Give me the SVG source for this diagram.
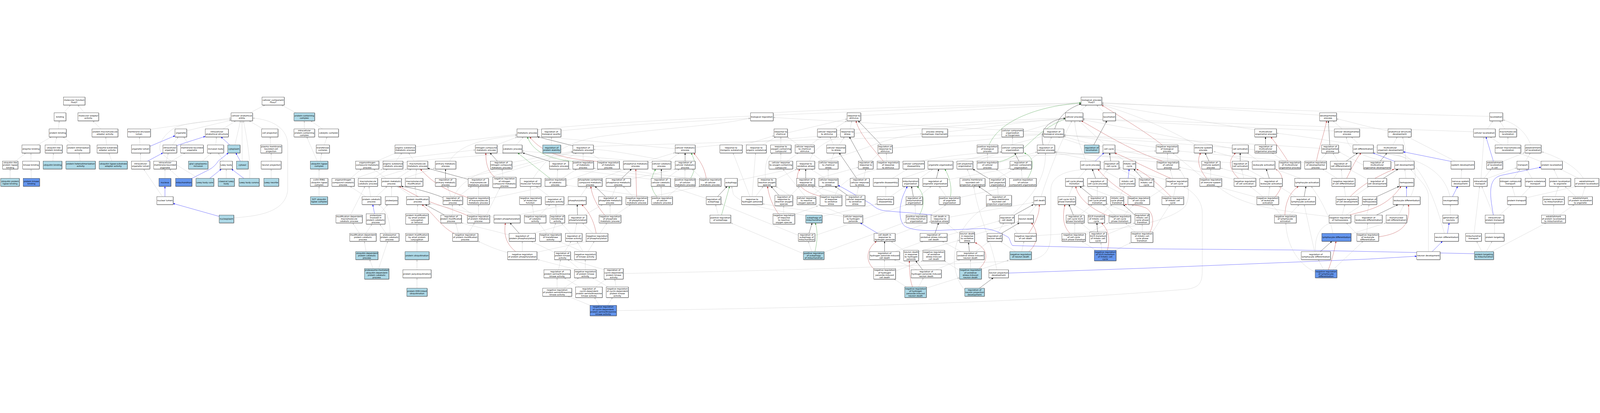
<svg xmlns="http://www.w3.org/2000/svg" width="7680" height="1057" viewBox="0 0 7680 1057">
<defs>
<style>
svg{width:100vw;height:100vh}
rect{fill:#fff;stroke:#111;stroke-width:1;filter:drop-shadow(1px 1px 0 #666)}
.l rect{fill:#add8e6}
.c rect{fill:#6495ed}
text{font-family:"DejaVu Sans","Liberation Sans",sans-serif;font-size:10.2px;text-anchor:middle;fill:#000}
#edges path{fill:none;stroke-width:1}
.g{stroke:#c0c0c0;marker-end:url(#mg)}
.b{stroke:#0000ff;marker-end:url(#mb)}
.k{stroke:#000;marker-end:url(#mk)}
.r{stroke:#b22222;marker-end:url(#mr)}
.n{stroke:#228b22;marker-end:url(#mn)}
</style>
<marker id="mg" viewBox="0 0 10 8" refX="10" refY="4" markerWidth="9" markerHeight="7" markerUnits="userSpaceOnUse" orient="auto"><path d="M0,0L10,4L0,8z" fill="#c0c0c0"/></marker>
<marker id="mb" viewBox="0 0 10 8" refX="10" refY="4" markerWidth="9" markerHeight="7" markerUnits="userSpaceOnUse" orient="auto"><path d="M0,0L10,4L0,8z" fill="#0000ff"/></marker>
<marker id="mk" viewBox="0 0 10 8" refX="10" refY="4" markerWidth="9" markerHeight="7" markerUnits="userSpaceOnUse" orient="auto"><path d="M0,0L10,4L0,8z" fill="#000"/></marker>
<marker id="mr" viewBox="0 0 10 8" refX="10" refY="4" markerWidth="9" markerHeight="7" markerUnits="userSpaceOnUse" orient="auto"><path d="M0,0L10,4L0,8z" fill="#b22222"/></marker>
<marker id="mn" viewBox="0 0 10 8" refX="10" refY="4" markerWidth="9" markerHeight="7" markerUnits="userSpaceOnUse" orient="auto"><path d="M0,0L10,4L0,8z" fill="#228b22"/></marker>
</defs>
<rect x="0" y="0" width="7680" height="1057" style="fill:#fff;stroke:none;filter:none"/>
<g id="edges">
<path class="g" d="M305.3,79.1L338.8,41.6"/>
<path class="g" d="M406,79.1L373.5,41.6"/>
<path class="g" d="M280,156.3L284.5,117.1"/>
<path class="g" d="M484,156.3L445,117.1"/>
<path class="g" d="M179.6,233.2L247,194.3"/>
<path class="g" d="M262.4,233.2L272.7,194.3"/>
<path class="g" d="M351.8,233.2L302,194.3"/>
<path class="g" d="M511.8,233.2L507.3,194.3"/>
<path class="g" d="M74.3,310.8L124.5,271.2"/>
<path class="g" d="M148.6,310.8L148.6,271.2"/>
<path class="g" d="M253.9,310.8L256.3,271.2"/>
<path class="g" d="M384.5,310.8L379.6,271.2"/>
<path class="g" d="M536.7,310.8L522.4,271.2"/>
<path class="g" d="M48.6,393.7L48.6,348.8"/>
<path class="g" d="M150.2,393.7L149,348.8"/>
<path class="g" d="M1199.2,79.1L1272.7,41.6"/>
<path class="g" d="M1421.6,79.1L1350.8,41.6"/>
<path class="g" d="M721.6,158L1109.8,104"/>
<path class="g" d="M896.3,165L1109.8,114.6"/>
<path class="g" d="M1070.6,156.3L1131.8,117.1"/>
<path class="g" d="M1262.4,156.3L1195,117.1"/>
<path class="g" d="M671.8,233.2L669.4,194.3"/>
<path class="b" d="M718.8,240L840,189"/>
<path class="g" d="M827.8,233.2L855.5,194.3"/>
<path class="b" d="M847.8,236L985.3,192"/>
<path class="g" d="M908.2,233.2L881.6,194.3"/>
<path class="g" d="M1035.9,233.2L1038.8,194.3"/>
<path class="b" d="M1103.3,233.2L1060.4,194.3"/>
<path class="g" d="M1127.8,233.2L1154.3,117.1"/>
<path class="g" d="M1298.9,233.2L1296.9,194.3"/>
<path class="g" d="M674.7,310.8L674.7,271.2"/>
<path class="b" d="M708.6,310.8L782,271.2"/>
<path class="g" d="M798,310.8L808,271.2"/>
<path class="g" d="M823.7,310.8L889.8,271.2"/>
<path class="g" d="M971.4,310.8L1014.7,271.2"/>
<path class="g" d="M1073.5,310.8L1047.3,271.2"/>
<path class="b" d="M1153.5,310.8L1131.8,271.2"/>
<path class="g" d="M1162.4,310.8L1161.6,117.1"/>
<path class="g" d="M1301.6,310.8L1301.6,271.2"/>
<path class="g" d="M791.8,393.7L791.8,348.8"/>
<path class="g" d="M861.6,393.7L813.5,348.8"/>
<path class="b" d="M920.8,393.7L1005,351Q1030,338 1048,310L1096.3,271.2"/>
<path class="b" d="M1006.5,393.7L1062.4,348.8"/>
<path class="g" d="M954.3,393.7C900,360 790,300 770,262C755,230 790,180 840,150C900,125 1000,118 1109.8,111"/>
<path class="g" d="M1086,393.7L1086,348.8"/>
<path class="b" d="M1170.6,393.7L1111.4,348.8"/>
<path class="g" d="M1198.4,393.7C1202,330 1195,250 1168.6,117.1"/>
<path class="g" d="M1301.6,393.7L1301.6,348.8"/>
<path class="b" d="M791.8,481L791.8,431.7"/>
<path class="g" d="M779.6,481L689,348.8"/>
<path class="b" d="M1051.8,576L830.6,513.8"/>
<path class="g" d="M1122,583C1230,575 1370,560 1381,450L1381,230C1380,150 1300,110 1213,104.5"/>
<path class="g" d="M1460.7,156.3L1460.7,117.1"/>
<path class="g" d="M1547.7,156.3L1491,117.1"/>
<path class="g" d="M1556.5,233.2L1570,194.3"/>
<path class="g" d="M1522.7,310.8L1472.2,194.3"/>
<path class="g" d="M1537.6,310.8L1544.3,271.2"/>
<path class="g" d="M1531.5,393.7L1531.5,348.8"/>
<path class="g" d="M1531.5,481L1531.5,431.7"/>
<path class="g" d="M1994,242L2482,182"/>
<path class="g" d="M1812,310.8L2282,257"/>
<path class="g" d="M1809.3,310.8L1900.4,271.2"/>
<path class="g" d="M1900.4,310.8L1929.4,271.2"/>
<path class="g" d="M1933.4,318C2100,295 2300,290 2420,271.2"/>
<path class="g" d="M1988,310.8L1961,271.2"/>
<path class="g" d="M2158,310.8C2200,240 2300,205 2482,188"/>
<path class="g" d="M1682.6,393.7L1735,348.8"/>
<path class="g" d="M1701.4,395L1837,348.8"/>
<path class="g" d="M1794.5,393.7L1860,348.8"/>
<path class="g" d="M1809.3,393.7L1954,348.8"/>
<path class="g" d="M1853,393.7L1792.5,348.8"/>
<path class="g" d="M1908.4,393.7L1974.5,348.8"/>
<path class="g" d="M1927,398L2088,344"/>
<path class="g" d="M1994.8,393.7L1998.8,348.8"/>
<path class="k" d="M2138.6,393.7L2138.6,348.8"/>
<path class="k" d="M2247,398L2052.7,345"/>
<path class="g" d="M2188,398C2400,360 2600,300 2749.7,266"/>
<path class="g" d="M2330,393.7L2752,268"/>
<path class="g" d="M2457,317L2750,263"/>
<path class="g" d="M1755.4,481L1680,431.7"/>
<path class="g" d="M1779,481L1771,431.7"/>
<path class="g" d="M1806,481L1858.6,431.7"/>
<path class="g" d="M1879.6,481L1879.6,431.7"/>
<path class="g" d="M1978,481L1907,431.7"/>
<path class="g" d="M2000,481L1992,431.7"/>
<path class="k" d="M2126.3,485C2060,460 1990,440 1926,431.7"/>
<path class="g" d="M2163.3,481L2148.5,431.7"/>
<path class="g" d="M2200.4,481L2264.5,431.7"/>
<path class="r" d="M2244,485C2150,455 2080,420 2018,348.8"/>
<path class="g" d="M2296.9,481L2296.9,431.7"/>
<path class="g" d="M2348,490C2500,460 2700,420 2876,348.8"/>
<path class="b" d="M1797.9,563.3L1789,519"/>
<path class="g" d="M1824.8,563.3L1861,519"/>
<path class="g" d="M1682.6,569.3L1752,431.7"/>
<path class="g" d="M2001.5,563.3L2005,519"/>
<path class="k" d="M2133,569.3L2040.6,519"/>
<path class="g" d="M2171.4,569.3L2171.4,519"/>
<path class="r" d="M2244,572C2190,548 2100,520 2060,505C2000,480 1950,450 1915,431.7"/>
<path class="g" d="M2270,569.3L2200.4,519"/>
<path class="g" d="M2296.9,569.3L2296.9,519"/>
<path class="g" d="M1725,657.3L1692.7,607.3"/>
<path class="g" d="M1756,657.3L1785.7,613.3"/>
<path class="g" d="M1853,657.3L1822.8,613.3"/>
<path class="g" d="M1872,657.3C1874,590 1850,540 1816,519"/>
<path class="g" d="M2001.5,657.3L2001.5,613.3"/>
<path class="r" d="M2180,657.3C2120,630 2080,560 2025,519"/>
<path class="g" d="M2200.4,657.3L2187,607.3"/>
<path class="g" d="M2247.6,657.3L2278,607.3"/>
<path class="g" d="M1757.4,745L1748.6,695.3"/>
<path class="g" d="M2001.5,745L2001.5,695.3"/>
<path class="g" d="M1791,826.6L1774,783"/>
<path class="g" d="M1817.4,826.6L1861.3,695.3"/>
<path class="g" d="M2001.5,832.6L2001.5,783"/>
<path class="g" d="M2001.5,921L2001.5,870.6"/>
<path class="g" d="M2370.7,580C2250,560 2150,530 2059,515"/>
<path class="g" d="M2443.5,665C2350,640 2260,620 2214.6,607"/>
<path class="g" d="M2436.8,750C2350,725 2320,705 2293.5,695.3"/>
<path class="g" d="M2335,569.3L2400,437.7"/>
<path class="g" d="M2180,481C2200,420 2280,370 2370,348.8"/>
<path class="r" d="M2376,388C2340,360 2332,320 2332,271.2"/>
<path class="k" d="M2387.6,310.8L2351.8,271.2"/>
<path class="g" d="M2414.5,387.7L2410,348.8"/>
<path class="g" d="M2580,160C3000,110 4000,80 5189.4,30"/>
<path class="g" d="M2384,233.2L2482,195.5"/>
<path class="g" d="M2478.6,233.2L2512.3,194.3"/>
<path class="g" d="M2647.2,233.2L2647.2,194.3"/>
<path class="k" d="M2749.7,237L2579.8,194"/>
<path class="g" d="M3240.6,251L2583,192"/>
<path class="n" d="M2749.7,312C2640,300 2560,270 2531.2,194.3"/>
<path class="r" d="M2868.4,312C2700,300 2600,270 2542.7,194.3"/>
<path class="g" d="M3240.6,318C3000,270 2900,255 2848,255"/>
<path class="g" d="M2848,240C3500,220 4500,190 5010,180"/>
<path class="k" d="M2637,311.5L2509,271.2"/>
<path class="g" d="M2701,310.8L2768.6,271.2"/>
<path class="g" d="M2799,310.8L2799,271.2"/>
<path class="g" d="M2890,310.8L2832.6,271.2"/>
<path class="g" d="M3105.7,310.8L3240.6,270"/>
<path class="g" d="M3130,317L2505.6,262"/>
<path class="g" d="M3207,310.8L3261,271.2"/>
<path class="k" d="M3288.5,310.8L3288.5,271.2"/>
<path class="g" d="M3336,245C4000,180 4700,130 5114,110"/>
<path class="g" d="M2559,393.7C2620,300 2700,215 2900,190C3200,150 3450,140 3602,104"/>
<path class="g" d="M2674,393.7L2677.5,348.8"/>
<path class="n" d="M2640,393.7L2485,271.2"/>
<path class="g" d="M2698,393.7L2768.6,348.8"/>
<path class="g" d="M2886.6,393.7L3001,348.8"/>
<path class="k" d="M2984.3,393.7L3031.5,348.8"/>
<path class="g" d="M3026.8,398L3243,348.8"/>
<path class="k" d="M3174.5,393.7L3174.5,348.8"/>
<path class="g" d="M3126,398L2728.8,348.8"/>
<path class="g" d="M3200,393.7L3261,348.8"/>
<path class="g" d="M3287.8,393.7L3287.8,348.8"/>
<path class="n" d="M3315,393.7C3350,330 3330,300 3318,271.2"/>
<path class="g" d="M3238.6,398L2848.8,345"/>
<path class="g" d="M3368.7,393.7L3321.5,348.8"/>
<path class="r" d="M3390,393.7C3380,330 3350,300 3330,271.2"/>
<path class="g" d="M3357,400C3200,380 3050,360 2972,348.8"/>
<path class="g" d="M2546,481L2546,431.7"/>
<path class="g" d="M2637,481L2573,431.7"/>
<path class="g" d="M2785.4,481L2819,431.7"/>
<path class="k" d="M2906.8,481L2856,431.7"/>
<path class="g" d="M2937,481L2957.4,431.7"/>
<path class="g" d="M3038,481L2991,431.7"/>
<path class="r" d="M3055.8,481L3051.8,348.8"/>
<path class="g" d="M3109,485L3362,431.7"/>
<path class="g" d="M3176.5,481L3173,431.7"/>
<path class="n" d="M3153,481C3110,430 3130,380 3147,348.8"/>
<path class="g" d="M3127.3,485L2716,426"/>
<path class="g" d="M3203.6,481L3264,431.7"/>
<path class="k" d="M3444.6,481L3490.4,431.7"/>
<path class="g" d="M3390,490L3214,431.7"/>
<path class="g" d="M2485.3,569.3L2728,519"/>
<path class="g" d="M2563,569.3L2554,519"/>
<path class="g" d="M2590,569.3L2640.4,519"/>
<path class="g" d="M2671,569.3L2667.4,519"/>
<path class="k" d="M2772,569.3L2770.6,519"/>
<path class="g" d="M2805.6,569.3L2893,519"/>
<path class="g" d="M2928.4,569.3L2928.4,519"/>
<path class="g" d="M2954,569.3L3028,519"/>
<path class="r" d="M2902,569.3C2860,520 2840,470 2836,431.7"/>
<path class="k" d="M2492,657.3L2448,607.3"/>
<path class="g" d="M2559.5,657.3L2735,607.3"/>
<path class="g" d="M2623.6,657.3L2586.5,607.3"/>
<path class="g" d="M2650.5,657.3L2667.4,607.3"/>
<path class="g" d="M2738,657.3L2694.4,607.3"/>
<path class="g" d="M2758.4,657.3L2768.6,607.3"/>
<path class="g" d="M2846,657.3L2795.5,607.3"/>
<path class="g" d="M2880,657.3L2913.5,607.3"/>
<path class="r" d="M2861.6,657.3C2850,590 2820,545 2792,519"/>
<path class="r" d="M2475,745C2420,700 2420,650 2426,607.3"/>
<path class="g" d="M2507,745L2507,695.3"/>
<path class="g" d="M2577,748L2819,695.3"/>
<path class="g" d="M2660.7,748L2549.4,695.3"/>
<path class="g" d="M2711,745L2741.6,695.3"/>
<path class="g" d="M2799,745L2768.6,695.3"/>
<path class="g" d="M2822.5,745L2852.8,695.3"/>
<path class="g" d="M2795,745L2681,695.3"/>
<path class="g" d="M2681,832.6L2691,783"/>
<path class="g" d="M2809.3,832.6L2809.3,783"/>
<path class="g" d="M2785.4,832.6L2724.7,783"/>
<path class="g" d="M2780,835L2580,783"/>
<path class="g" d="M2900,832L2738,783"/>
<path class="g" d="M2991,850C3800,835 4400,815 4950,785C5030,770 5044,720 5044,650L5044,450C5044,390 5100,360 5190,352L5303,348.8"/>
<path class="g" d="M2782,914.4L2708,870.6"/>
<path class="g" d="M2859.6,914.4L2910,876.6"/>
<path class="g" d="M2674,921L2674,870.6"/>
<path class="g" d="M2706.5,921L2778.7,870.6"/>
<path class="g" d="M2957.4,914.4L2950.6,876.6"/>
<path class="g" d="M2920,914.4L2842.7,870.6"/>
<path class="g" d="M2832.6,1002.7L2725,959"/>
<path class="g" d="M2876.5,1002.7L2853,964.3"/>
<path class="g" d="M2917,1002.7L2940.5,964.3"/>
<path class="g" d="M2958.7,1028C4000,1015 5000,985 5700,925C5770,915 5771,880 5771,820L5771,560C5771,500 5730,460 5680,431.7"/>
<path class="g" d="M5010,172C4600,150 4000,120 3711,101"/>
<path class="g" d="M3700,79.1C4200,50 4800,40 5189,33"/>
<path class="g" d="M2692,165C3000,135 3400,115 3602,106"/>
<path class="g" d="M4131,92C4500,75 4900,50 5189.4,37"/>
<path class="g" d="M3779.7,175L4066.3,108"/>
<path class="g" d="M4003,156.3L4065,117.1"/>
<path class="g" d="M4015,165C4500,130 4900,110 5114,104"/>
<path class="g" d="M4080.4,156.3L4088.5,117.1"/>
<path class="g" d="M3562.6,236L3715.6,188.8"/>
<path class="g" d="M3660.4,233.2L3724.4,194.3"/>
<path class="g" d="M3748,233.2L3748,194.3"/>
<path class="g" d="M3832.3,233.2L3778.4,194.3"/>
<path class="g" d="M3889.6,233.2L3941.5,194.3"/>
<path class="g" d="M4001,233.2L3984,194.3"/>
<path class="g" d="M4028,233.2L4053.5,194.3"/>
<path class="k" d="M4230,233.2L4119,117.1"/>
<path class="g" d="M4282.7,248C4600,225 4850,190 5010,184"/>
<path class="g" d="M3748,310.8L3748,271.2"/>
<path class="g" d="M3778.4,310.8L3832.3,271.2"/>
<path class="g" d="M3886,310.8C3900,260 3950,220 4028,194.3"/>
<path class="g" d="M3947,310.8L3893,271.2"/>
<path class="g" d="M3987.4,310.8L4004.3,271.2"/>
<path class="k" d="M4141,310.8L4077,194.3"/>
<path class="g" d="M4179.6,310.8L4222,271.2"/>
<path class="g" d="M4257,310.8L4254,271.2"/>
<path class="r" d="M4240,310.8C4180,240 4120,170 4109,117.1"/>
<path class="g" d="M4315,315C4800,290 5300,270 5549.8,262"/>
<path class="g" d="M4420,310.8C4500,290 4700,270 4809,265"/>
<path class="g" d="M3538.3,404C3700,370 4000,310 4200,230C4300,195 4380,182 4425.7,180"/>
<path class="g" d="M4548.8,170C4800,140 5000,112 5114,106"/>
<path class="g" d="M3673.8,393.7C3670,330 3680,290 3710,271.2"/>
<path class="g" d="M3723.7,398L3824.2,348.8"/>
<path class="k" d="M3867.4,393.7L3867.4,348.8"/>
<path class="g" d="M3910,398L4121,340"/>
<path class="g" d="M3960.4,393.7L3893,348.8"/>
<path class="g" d="M3975.3,393.7L3975.3,348.8"/>
<path class="k" d="M4112,393.7L4028,271.2"/>
<path class="g" d="M4146,393.7L4156,348.8"/>
<path class="g" d="M4284,393.7L4355,348.8"/>
<path class="g" d="M4311.7,398C4380,380 4420,360 4470,348.8"/>
<path class="g" d="M4408.8,398L4478,348.8"/>
<path class="k" d="M4494.8,393.7L4506,348.8"/>
<path class="g" d="M4547.4,400L4848,345"/>
<path class="g" d="M3599.7,481L3518.7,271.2"/>
<path class="g" d="M3626.6,481L3663.7,431.7"/>
<path class="g" d="M3610,481L3626.6,271.2"/>
<path class="k" d="M3739,475L3700.8,431.7"/>
<path class="g" d="M3795,475L3839,431.7"/>
<path class="g" d="M3825.6,499L3723.7,431.7"/>
<path class="g" d="M3893,481L3953.7,431.7"/>
<path class="g" d="M3866,481L3758,348.8"/>
<path class="g" d="M3953.7,475L3896.4,431.7"/>
<path class="r" d="M3936.8,479C3860,460 3800,420 3839,348.8"/>
<path class="g" d="M4008,475C4030,420 4080,380 4215,348.8"/>
<path class="k" d="M4068,475L4007.6,431.7"/>
<path class="g" d="M4112,475L4121,431.7"/>
<path class="g" d="M4058,479L3910,431.7"/>
<path class="g" d="M4251.7,481L4251.7,431.7"/>
<path class="g" d="M4274,481L4345,431.7"/>
<path class="k" d="M4384,481L4375,431.7"/>
<path class="g" d="M4410,481L4470,431.7"/>
<path class="g" d="M3448,569.3L3434.5,519"/>
<path class="n" d="M3463.5,569.3L3502,431.7"/>
<path class="g" d="M3856.6,755L3508,607.3"/>
<path class="g" d="M3761.5,563.3L3761.5,525"/>
<path class="r" d="M3736.5,563.3C3700,510 3690,470 3684,431.7"/>
<path class="g" d="M3805,569L3926.7,525"/>
<path class="g" d="M3945.6,576L4210.6,516"/>
<path class="g" d="M3868,572C3700,545 3560,520 3520,470L3512,431.7"/>
<path class="g" d="M4048,576L3660.3,516"/>
<path class="g" d="M4051.6,569.3L3926.7,519"/>
<path class="g" d="M4395,569.3L4392,519"/>
<path class="n" d="M4413.5,569.3C4440,520 4440,470 4402,431.7"/>
<path class="g" d="M4449.3,575C4480,560 4520,540 4540,519"/>
<path class="g" d="M3832.3,667L3461,516"/>
<path class="k" d="M3883,657.3L3898.4,607.3"/>
<path class="g" d="M3911.2,668L4352.5,519"/>
<path class="b" d="M4213,657.3L4129,607.3"/>
<path class="g" d="M4297,664L4468.5,600"/>
<path class="k" d="M4488,657.3L4505,607.3"/>
<path class="g" d="M4546,667L4800,597"/>
<path class="g" d="M3896.4,745L3879.5,695.3"/>
<path class="n" d="M3911.9,745C3925,690 3925,640 3913,607.3"/>
<path class="g" d="M3955.7,748L4348.8,603"/>
<path class="k" d="M4246,745L4246,695.3"/>
<path class="g" d="M4297.6,745L4432,695.3"/>
<path class="g" d="M4338,739L4277,695.3"/>
<path class="g" d="M4408.8,745L4606.8,690"/>
<path class="g" d="M4245.6,826.6L4245.6,783"/>
<path class="r" d="M4196.5,830C4150,790 4160,730 4207.6,695.3"/>
<path class="g" d="M4298.3,838L4430.4,789"/>
<path class="k" d="M4429,832.6L4395.3,789"/>
<path class="g" d="M4402,832.6L4291,783"/>
<path class="g" d="M4491.5,832.6L4609,783"/>
<path class="r" d="M4379.8,915C4365,870 4365,830 4365,789"/>
<path class="g" d="M4409,915L4432.5,870.6"/>
<path class="g" d="M4351.5,915L4291,876.6"/>
<path class="g" d="M4446.6,920L4606,870"/>
<path class="g" d="M5176,79.1L5216.4,41.6"/>
<path class="g" d="M5302,79.1L5263.5,41.6"/>
<path class="k" d="M5062.6,156.3C5080,100 5120,60 5189.4,36"/>
<path class="n" d="M4747.7,233.2C4790,130 4950,50 5189.4,31"/>
<path class="r" d="M5578.6,233.2C5500,170 5380,100 5288.5,41.6"/>
<path class="k" d="M5007,233.2C4990,170 5020,115 5114,104.5"/>
<path class="g" d="M5031,233.2L5047.8,194.3"/>
<path class="n" d="M4789.5,315C4920,290 4950,170 5114,108"/>
<path class="g" d="M4739.6,310.8L4739.6,271.2"/>
<path class="g" d="M4789,320L4978,267"/>
<path class="g" d="M4789.5,250L5010,190"/>
<path class="g" d="M5549.8,245L5105.7,184"/>
<path class="r" d="M5580,310.8C5450,270 5300,180 5190,117.1"/>
<path class="g" d="M5604.4,310.8L5604.4,271.2"/>
<path class="g" d="M5553.9,315L5062.6,265"/>
<path class="g" d="M4911.5,170L5114,110"/>
<path class="g" d="M4860,233.2L4860,194.3"/>
<path class="k" d="M5250,233.2L5313,117.1"/>
<path class="g" d="M5205,236L5078,194.3"/>
<path class="g" d="M5304,233.2L5179,117.1"/>
<path class="g" d="M4574.4,318L4809,266"/>
<path class="g" d="M4669.5,316L4809,268"/>
<path class="k" d="M4891,310.8L4870.4,271.2"/>
<path class="g" d="M4936.5,310.8L4990,270"/>
<path class="b" d="M5256.8,310.8L5299,271.2"/>
<path class="g" d="M5213,310.8C5180,230 5160,170 5159,117.1"/>
<path class="k" d="M5331,310.8L5326,271.2"/>
<path class="g" d="M5300.6,318L5062.6,270"/>
<path class="g" d="M5398.4,310.8L5348,271.2"/>
<path class="r" d="M5620,393.7C5520,350 5420,300 5351,271.2"/>
<path class="g" d="M5597,400L5370,340"/>
<path class="g" d="M5629,393.7L5616,348.8"/>
<path class="g" d="M4660,393.7L4643,348.8"/>
<path class="k" d="M4751,398L4670,348.8"/>
<path class="g" d="M4788,393.7L4869,348.8"/>
<path class="g" d="M4906,393.7L4903,348.8"/>
<path class="n" d="M4933,393.7C4970,330 4960,290 4916,271.2"/>
<path class="g" d="M4849,398L4781,348.8"/>
<path class="g" d="M5176,393.7L5216,348.8"/>
<path class="k" d="M5259,393.7L5243,348.8"/>
<path class="g" d="M5284,393.7L5317.6,348.8"/>
<path class="b" d="M5415,393.7L5420,348.8"/>
<path class="g" d="M5374.8,398L5280,345"/>
<path class="k" d="M5483,393.7L5442,348.8"/>
<path class="g" d="M5468,398L5370,345"/>
<path class="r" d="M5620,481C5560,420 5500,370 5455,348.8"/>
<path class="g" d="M5633,481L5643,431.7"/>
<path class="g" d="M5599,481L5535,431.7"/>
<path class="g" d="M4542,481L4508,431.7"/>
<path class="n" d="M4562,481C4570,440 4560,390 4535,348.8"/>
<path class="g" d="M4607.4,485L4849,431.7"/>
<path class="k" d="M4760,475L4697,431.7"/>
<path class="g" d="M4791.5,475L4788,431.7"/>
<path class="g" d="M4997,481C5040,350 5090,220 5145,117.1"/>
<path class="g" d="M5128.7,481L5149,431.7"/>
<path class="k" d="M5243.3,481L5182.6,431.7"/>
<path class="g" d="M5267,481L5267,431.7"/>
<path class="g" d="M5374.8,481L5398.4,431.7"/>
<path class="g" d="M5348,485L5199.5,428"/>
<path class="g" d="M5422,485L5314,431.7"/>
<path class="r" d="M5429,481C5350,430 5300,390 5270,348.8"/>
<path class="g" d="M5518,485L5600,431.7"/>
<path class="b" d="M4475,569.3C4400,560 4300,555 4240,548C4200,540 4190,520 4170,510C4100,470 4050,440 4022.5,427"/>
<path class="g" d="M4555,580L4962,509"/>
<path class="k" d="M4869,569.3L4960,519"/>
<path class="g" d="M4855.6,569.3C4970,470 5020,380 5018,271.2"/>
<path class="g" d="M4936.5,569.3L4975.6,519"/>
<path class="k" d="M5152,569.3L5130.7,519"/>
<path class="g" d="M5182.6,569.3L5243.3,519"/>
<path class="g" d="M5233,569.3L5152,519"/>
<path class="g" d="M5287,569.3L5338,519"/>
<path class="g" d="M5351,569.3L5294,519"/>
<path class="r" d="M5324,575C5230,540 5170,480 5164,431.7"/>
<path class="g" d="M5395,569.3L5442,519"/>
<path class="k" d="M5447.6,570L5392,519"/>
<path class="g" d="M5442,568L5310,515"/>
<path class="g" d="M4603,660L4542,607.3"/>
<path class="g" d="M4677.6,664L4890,602"/>
<path class="g" d="M4788,657.3L4818.5,607.3"/>
<path class="k" d="M4807,657.3L4892.7,607.3"/>
<path class="g" d="M4882.6,657.3L4852,607.3"/>
<path class="r" d="M4938,657.3C4975,600 4990,560 4988.5,519"/>
<path class="g" d="M4974.3,668C5300,650 5600,620 5690,526C5720,470 5700,400 5660,348.8"/>
<path class="g" d="M5159,657.3L5159,607.3"/>
<path class="r" d="M5135.4,657.3C5100,620 5100,570 5111.8,519"/>
<path class="g" d="M5210,664L5320,607.3"/>
<path class="k" d="M5268.3,651.3L5265,607.3"/>
<path class="g" d="M5240,651.3L5189,607.3"/>
<path class="g" d="M5310,664L5447.6,607"/>
<path class="g" d="M5449,651.3L5402,607.3"/>
<path class="g" d="M5482.7,651.3L5482.7,613.3"/>
<path class="r" d="M5520,651.3C5540,610 5540,560 5500,535C5460,520 5420,519 5398,519"/>
<path class="g" d="M5528,657.3L5616,519"/>
<path class="g" d="M5289,739L5284,701.3"/>
<path class="r" d="M5315.5,739C5330,680 5320,640 5287,607.3"/>
<path class="g" d="M5260,739L5193,695.3"/>
<path class="g" d="M5340,745L5429.4,701.3"/>
<path class="k" d="M4653,745L4648.6,701.3"/>
<path class="g" d="M4683.6,745L4747.7,695.3"/>
<path class="g" d="M4613,745L4522,695.3"/>
<path class="g" d="M4874.5,745L4801.6,695.3"/>
<path class="g" d="M4904,745L4915,695.3"/>
<path class="r" d="M4938.5,745C4990,700 4980,640 4950,607.3"/>
<path class="g" d="M4658.7,826.6L4658.7,783"/>
<path class="r" d="M4700.5,826.6C4750,780 4740,730 4680,701.3"/>
<path class="g" d="M4710.6,829L4842,786"/>
<path class="g" d="M4606,836L4532,789"/>
<path class="g" d="M4784.8,832.6C4760,700 4690,550 4674,431.7"/>
<path class="b" d="M4840,848L5508,824L6565,781L6800.4,767"/>
<path class="k" d="M4700.5,921L4768,870.6"/>
<path class="g" d="M4631,930C4540,820 4570,620 4741,525"/>
<path class="b" d="M7077,755L6200,737L5508,731.6L4860,716C4850,705 4848,685 4840,676C4810,660 4780,640 4720,634C4600,638 4500,645 4451,644C4400,642 4360,636 4340,620C4315,595 4318,540 4325,512C4330,480 4345,455 4355,431.7"/>
<path class="g" d="M6334,90C6000,70 5600,45 5288.5,30"/>
<path class="g" d="M6022.5,160C5700,110 5500,70 5288.5,38"/>
<path class="g" d="M6442,156.3L6398,117.1"/>
<path class="g" d="M6404.8,166C6000,150 5500,125 5197.5,107"/>
<path class="g" d="M5740,233.2C5600,150 5450,90 5288.5,40"/>
<path class="g" d="M5914.6,250C5600,190 5350,140 5197.5,112"/>
<path class="k" d="M6074.4,233.2L6074.4,194.3"/>
<path class="g" d="M6022.5,256C5700,230 5300,200 5105.7,186"/>
<path class="k" d="M6383,233.2L6376,117.1"/>
<path class="g" d="M6344,250C5900,220 5400,195 5105.7,188"/>
<path class="g" d="M6526,233.2L6486,194.3"/>
<path class="g" d="M6694.4,318C6560,300 6465,260 6463,194.3"/>
<path class="k" d="M5803,310.8L5784.5,271.2"/>
<path class="g" d="M5768.3,318C5500,290 5300,250 5105.7,192"/>
<path class="r" d="M5791,393.7C5750,340 5745,300 5764,271.2"/>
<path class="g" d="M5811.4,393.7L5811.4,348.8"/>
<path class="g" d="M5778,393.7L5629,271.2"/>
<path class="k" d="M5953,310.8L5953,271.2"/>
<path class="g" d="M5914.6,318C5500,300 5200,280 5062.6,268"/>
<path class="r" d="M5945,393.7C5890,340 5900,300 5931.5,271.2"/>
<path class="g" d="M5970,393.7L5960,348.8"/>
<path class="g" d="M5926,398L5658.4,340"/>
<path class="g" d="M6040.7,310.8L5986.8,271.2"/>
<path class="g" d="M6013.7,318L5825,264"/>
<path class="k" d="M6092.6,393.7L6078,348.8"/>
<path class="g" d="M6067.7,393.7L5986.8,348.8"/>
<path class="g" d="M6047.5,398L5858.6,344"/>
<path class="r" d="M6121.6,481C6172,420 6160,370 6121.6,348.8"/>
<path class="g" d="M6089,481L6094.7,431.7"/>
<path class="g" d="M6061,481L6000,431.7"/>
<path class="g" d="M6034,485L5838.4,431.7"/>
<path class="g" d="M6243,393.7L6119.6,348.8"/>
<path class="k" d="M6260,481L6268.6,431.7"/>
<path class="g" d="M6219.4,481L6138.5,431.7"/>
<path class="r" d="M6167.5,569.3C6170,510 6190,460 6233,431.7"/>
<path class="g" d="M6189,569.3L6236,519"/>
<path class="g" d="M6148.6,569.3L6104.8,519"/>
<path class="k" d="M6625.4,310.8L6657.4,271.2"/>
<path class="g" d="M6544.4,330L6425,265"/>
<path class="k" d="M6462,310.8L6517.4,271.2"/>
<path class="g" d="M6421.7,310.8L6398,271.2"/>
<path class="r" d="M6319,310.8C6330,250 6350,200 6368,117.1"/>
<path class="g" d="M6334,310.8L6368,271.2"/>
<path class="g" d="M6262.6,318L5654.3,262"/>
<path class="r" d="M6182,310.8C6150,260 6120,220 6100,194.3"/>
<path class="g" d="M6162,310.8L6105,271.2"/>
<path class="g" d="M6442,393.7L6438.5,348.8"/>
<path class="r" d="M6464,393.7C6490,340 6510,300 6533,271.2"/>
<path class="g" d="M6418,393.7L6347.5,348.8"/>
<path class="k" d="M6639.7,393.7L6710.8,348.8"/>
<path class="g" d="M6564.6,398L6475.6,348.8"/>
<path class="g" d="M6499,481L6570,431.7"/>
<path class="g" d="M6458.7,481L6452,431.7"/>
<path class="r" d="M6481,481C6540,420 6620,380 6692,348.8"/>
<path class="k" d="M6609,481L6716,431.7"/>
<path class="g" d="M6462,569.3L6539.7,519"/>
<path class="g" d="M6442,569.3L6455.4,519"/>
<path class="r" d="M6479,569.3C6560,545 6650,540 6725,431.7"/>
<path class="g" d="M6380,577C6100,545 5950,520 5845,431.7"/>
<path class="k" d="M6607.7,569.3L6710.8,519"/>
<path class="g" d="M6560,569.3L6572,519"/>
<path class="g" d="M6560,657.3L6565,607.3"/>
<path class="r" d="M6617,674C6720,660 6775,620 6760,519"/>
<path class="g" d="M6516,664L6462,607.3"/>
<path class="g" d="M6485,660L6653,607.3"/>
<path class="g" d="M6714,569.3L6739,519"/>
<path class="g" d="M6398,657.3C6380,560 6330,480 6293.6,431.7"/>
<path class="k" d="M6337.4,745L6393.4,695.3"/>
<path class="g" d="M6314,745C6310,680 6330,610 6420,600C6480,596 6530,605 6545,607.3"/>
<path class="g" d="M6310,745L6260,519"/>
<path class="g" d="M6354.3,832.6L6327.3,783"/>
<path class="r" d="M6376,832.6C6395,780 6405,740 6413,695.3"/>
<path class="g" d="M6398,832.6L6543,695.3"/>
<path class="g" d="M6313,843C6220,800 6175,700 6172,607.3"/>
<path class="g" d="M7150,96C6500,80 5800,50 5288.5,34"/>
<path class="g" d="M7139.7,156.3L7166,117.1"/>
<path class="g" d="M7223,156.3L7198,117.1"/>
<path class="g" d="M7347,233.2C7330,180 7280,130 7215,113"/>
<path class="g" d="M7072.7,170C6500,150 5800,125 5197.5,108"/>
<path class="g" d="M6662.4,165C6550,145 6480,120 6415,108"/>
<path class="g" d="M6686,233.2L6707,194.3"/>
<path class="g" d="M6611,245C6450,225 6250,190 6127,177"/>
<path class="g" d="M7208.7,233.2L7151.8,194.3"/>
<path class="g" d="M7238,233.2L7238,194.3"/>
<path class="g" d="M6746,310.8C6750,260 6740,220 6732,194.3"/>
<path class="b" d="M6694.4,312L6590,271.2"/>
<path class="g" d="M6984.6,310.8L6757,194.3"/>
<path class="b" d="M6964.6,312L6735.7,266"/>
<path class="b" d="M7168,310.8L7132.5,194.3"/>
<path class="g" d="M7215.8,311L7319,270"/>
<path class="g" d="M7322,310.8L7346,271.2"/>
<path class="g" d="M7397,313L7290,271.2"/>
<path class="g" d="M6748.5,393.7L6743,348.8"/>
<path class="g" d="M7013,393.7L7016.6,348.8"/>
<path class="g" d="M7109,393.7L7123,194.3"/>
<path class="g" d="M7123,393.7L7157.4,348.8"/>
<path class="g" d="M7139.7,393.7L7279.8,343"/>
<path class="g" d="M7265.5,393.7L7296,348.8"/>
<path class="g" d="M7354,393.7L7326,348.8"/>
<path class="g" d="M7479,393.7L7457.6,348.8"/>
<path class="g" d="M7578.5,393.7L7488,348.8"/>
<path class="g" d="M7600,393.7C7570,340 7480,290 7400,266"/>
<path class="b" d="M6751.3,481L6751.3,431.7"/>
<path class="g" d="M6771,481C6810,400 6800,290 6720,275C6680,270 6630,270 6592,270"/>
<path class="b" d="M6972,481L6997,431.7"/>
<path class="g" d="M6960,481C6930,350 6800,290 6620,271.2"/>
<path class="g" d="M6962,569.3L6962,519"/>
<path class="b" d="M6947.6,657.3L6956,607.3"/>
<path class="g" d="M6933,657.3C6890,500 6820,300 6700,280L6592,271.2"/>
<path class="b" d="M6874.4,745L6924,695.3"/>
<path class="g" d="M6856.6,745L6856.6,480C6856.6,430 6800,390 6771,348.8"/>
<path class="g" d="M7112.6,745L7087.7,695.3"/>
<path class="g" d="M7134,745L7162.4,695.3"/>
<path class="g" d="M7159,745L7422,607.3"/>
<path class="g" d="M7075.7,657.3L7102,431.7"/>
<path class="g" d="M7174,657.3L7174,607.3"/>
<path class="g" d="M7168,569.3L7112.6,431.7"/>
<path class="g" d="M7198,569.3L7255,519"/>
<path class="b" d="M7168,569.3C7160,520 7150,470 7158,430C7165,400 7180,385 7210,378L7397,340"/>
<path class="g" d="M7272.7,481L7258.4,431.7"/>
<path class="g" d="M7301,481L7347,431.7"/>
<path class="g" d="M7325,487L7568,431.7"/>
<path class="g" d="M7464.7,481L7481,431.7"/>
<path class="g" d="M7564,481L7511,431.7"/>
<path class="g" d="M7594,481L7609,431.7"/>
<path class="g" d="M7457.6,569.3L7457.6,519"/>
<path class="g" d="M7486,569.3L7557,519"/>
</g>
<g id="nodes">
<g id="mf" transform="translate(356,22.6)"><rect x="-51.5" y="-19" width="103" height="38"/><text y="-2.2">molecular_function<tspan x="0" dy="11.5">Fbxo7</tspan></text></g>
<g id="binding" transform="translate(288,98.1)"><rect x="-28.5" y="-19" width="57" height="38"/><text y="3.5">binding</text></g>
<g id="mol_adaptor" transform="translate(424,98.1)"><rect x="-49.5" y="-19" width="99" height="38"/><text y="-2.2">molecular adaptor<tspan x="0" dy="11.5">activity</tspan></text></g>
<g id="protein_binding" transform="translate(277,175.3)"><rect x="-41" y="-19" width="82" height="38"/><text y="3.5">protein binding</text></g>
<g id="pm_adaptor" transform="translate(504,175.3)"><rect x="-62" y="-19" width="124" height="38"/><text y="-2.2">protein-macromolecule<tspan x="0" dy="11.5">adaptor activity</tspan></text></g>
<g id="enzyme_binding" transform="translate(148.5,252.2)"><rect x="-43.3" y="-19" width="86.6" height="38"/><text y="3.5">enzyme binding</text></g>
<g id="ubl_binding" transform="translate(257.5,252.2)"><rect x="-41" y="-19" width="82" height="38"/><text y="-2.2">ubiquitin-like<tspan x="0" dy="11.5">protein binding</tspan></text></g>
<g id="dimerization" transform="translate(376.5,252.2)"><rect x="-54.5" y="-19" width="109" height="38"/><text y="-2.2">protein dimerization<tspan x="0" dy="11.5">activity</tspan></text></g>
<g id="es_adaptor" transform="translate(515,252.2)"><rect x="-49" y="-19" width="98" height="38"/><text y="-2.2">enzyme-substrate<tspan x="0" dy="11.5">adaptor activity</tspan></text></g>
<g id="ubl_ligase_binding" transform="translate(49,329.8)"><rect x="-37" y="-19" width="74" height="38"/><text y="-8">ubiquitin-like<tspan x="0" dy="11.5">protein ligase</tspan><tspan x="0" dy="11.5">binding</tspan></text></g>
<g id="kinase_binding" transform="translate(148.6,329.8)"><rect x="-40" y="-19" width="80" height="38"/><text y="3.5">kinase binding</text></g>
<g id="ub_binding" class="l" transform="translate(252,329.8)"><rect x="-45" y="-19" width="90" height="38"/><text y="3.5">ubiquitin binding</text></g>
<g id="heterodim" class="l" transform="translate(387,329.8)"><rect x="-70.5" y="-19" width="141" height="38"/><text y="-2.2">protein heterodimerization<tspan x="0" dy="11.5">activity</tspan></text></g>
<g id="ub_ligase_sub" class="l" transform="translate(543.6,329.8)"><rect x="-67.5" y="-19" width="135" height="38"/><text y="-2.2">ubiquitin ligase-substrate<tspan x="0" dy="11.5">adaptor activity</tspan></text></g>
<g id="ub_prot_ligase_binding" class="l" transform="translate(48,412.7)"><rect x="-44.5" y="-19" width="89" height="38"/><text y="-2.2">ubiquitin protein<tspan x="0" dy="11.5">ligase binding</tspan></text></g>
<g id="prot_kinase_binding" class="c" transform="translate(150.6,412.7)"><rect x="-39" y="-19" width="78" height="38"/><text y="-2.2">protein kinase<tspan x="0" dy="11.5">binding</tspan></text></g>
<g id="cc" transform="translate(1311,22.6)"><rect x="-53" y="-19" width="106" height="38"/><text y="-2.2">cellular_component<tspan x="0" dy="11.5">Fbxo7</tspan></text></g>
<g id="cae" transform="translate(1161,98.1)"><rect x="-51.5" y="-19" width="103" height="38"/><text y="-2.2">cellular anatomical<tspan x="0" dy="11.5">entity</tspan></text></g>
<g id="mel" transform="translate(667,175.3)"><rect x="-55" y="-19" width="110" height="38"/><text y="-2.2">membrane-enclosed<tspan x="0" dy="11.5">lumen</tspan></text></g>
<g id="organelle" transform="translate(868,175.3)"><rect x="-28" y="-19" width="56" height="38"/><text y="3.5">organelle</text></g>
<g id="ias" transform="translate(1040.6,175.3)"><rect x="-55.5" y="-19" width="111" height="38"/><text y="-2.2">intracellular<tspan x="0" dy="11.5">anatomical structure</tspan></text></g>
<g id="cell_proj" transform="translate(1295,175.3)"><rect x="-39" y="-19" width="78" height="38"/><text y="3.5">cell projection</text></g>
<g id="pcc" class="l" transform="translate(1460.7,98.1)"><rect x="-49.3" y="-19" width="98.6" height="38"/><text y="-2.2">protein-containing<tspan x="0" dy="11.5">complex</tspan></text></g>
<g id="ipcc" transform="translate(1460.7,175.3)"><rect x="-49.3" y="-19" width="98.6" height="38"/><text y="-8">intracellular<tspan x="0" dy="11.5">protein-containing</tspan><tspan x="0" dy="11.5">complex</tspan></text></g>
<g id="catcx" transform="translate(1576.7,175.3)"><rect x="-48" y="-19" width="96" height="38"/><text y="3.5">catalytic complex</text></g>
<g id="org_lumen" transform="translate(674.7,252.2)"><rect x="-44" y="-19" width="88" height="38"/><text y="3.5">organelle lumen</text></g>
<g id="intra_org" transform="translate(815,252.2)"><rect x="-33" y="-19" width="66" height="38"/><text y="-2.2">intracellular<tspan x="0" dy="11.5">organelle</tspan></text></g>
<g id="mbo" transform="translate(921.6,252.2)"><rect x="-54.5" y="-19" width="109" height="38"/><text y="-2.2">membrane-bounded<tspan x="0" dy="11.5">organelle</tspan></text></g>
<g id="incl_body" transform="translate(1034.7,252.2)"><rect x="-39" y="-19" width="78" height="38"/><text y="3.5">inclusion body</text></g>
<g id="cytoplasm" class="l" transform="translate(1122.6,252.2)"><rect x="-29.5" y="-19" width="59" height="38"/><text y="3.5">cytoplasm</text></g>
<g id="pmbcp" transform="translate(1301.6,252.2)"><rect x="-50.5" y="-19" width="101" height="38"/><text y="-8">plasma membrane<tspan x="0" dy="11.5">bounded cell</tspan><tspan x="0" dy="11.5">projection</tspan></text></g>
<g id="trcx" transform="translate(1549.4,252.2)"><rect x="-31.5" y="-19" width="63" height="38"/><text y="-2.2">transferase<tspan x="0" dy="11.5">complex</tspan></text></g>
<g id="iol" transform="translate(674.7,329.8)"><rect x="-44" y="-19" width="88" height="38"/><text y="-2.2">intracellular<tspan x="0" dy="11.5">organelle lumen</tspan></text></g>
<g id="imbo" transform="translate(792,329.8)"><rect x="-54.5" y="-19" width="109" height="38"/><text y="-8">intracellular<tspan x="0" dy="11.5">membrane-bounded</tspan><tspan x="0" dy="11.5">organelle</tspan></text></g>
<g id="gci" class="l" transform="translate(951.4,329.8)"><rect x="-46.5" y="-19" width="93" height="38"/><text y="-2.2">glial cytoplasmic<tspan x="0" dy="11.5">inclusion</tspan></text></g>
<g id="lewy_body" transform="translate(1085.8,329.8)"><rect x="-29.5" y="-19" width="59" height="38"/><text y="3.5">Lewy body</text></g>
<g id="cytosol" class="l" transform="translate(1163.5,329.8)"><rect x="-28.5" y="-19" width="57" height="38"/><text y="3.5">cytosol</text></g>
<g id="neuron_proj" transform="translate(1301.5,329.8)"><rect x="-47.5" y="-19" width="95" height="38"/><text y="3.5">neuron projection</text></g>
<g id="ublcx" class="l" transform="translate(1531.5,329.8)"><rect x="-42" y="-19" width="84" height="38"/><text y="-2.2">ubiquitin ligase<tspan x="0" dy="11.5">complex</tspan></text></g>
<g id="nucleus" class="c" transform="translate(791.6,412.7)"><rect x="-28.5" y="-19" width="57" height="38"/><text y="3.5">nucleus</text></g>
<g id="mito" class="c" transform="translate(882,412.7)"><rect x="-39" y="-19" width="78" height="38"/><text y="3.5">mitochondrion</text></g>
<g id="lb_core" class="l" transform="translate(983.4,412.7)"><rect x="-42.5" y="-19" width="85" height="38"/><text y="3.5">Lewy body core</text></g>
<g id="classical_lb" class="l" transform="translate(1086,412.7)"><rect x="-39" y="-19" width="78" height="38"/><text y="-2.2">classical Lewy<tspan x="0" dy="11.5">body</tspan></text></g>
<g id="lb_corona" class="l" transform="translate(1195.6,412.7)"><rect x="-48.5" y="-19" width="97" height="38"/><text y="3.5">Lewy body corona</text></g>
<g id="lewy_neurite" class="l" transform="translate(1302,412.7)"><rect x="-35.5" y="-19" width="71" height="38"/><text y="3.5">Lewy neurite</text></g>
<g id="cullin" transform="translate(1531.5,412.7)"><rect x="-42" y="-19" width="84" height="38"/><text y="-8">cullin-RING<tspan x="0" dy="11.5">ubiquitin ligase</tspan><tspan x="0" dy="11.5">complex</tspan></text></g>
<g id="nuclear_lumen" transform="translate(791.8,500)"><rect x="-39" y="-19" width="78" height="38"/><text y="3.5">nuclear lumen</text></g>
<g id="scf" class="l" transform="translate(1531.5,500)"><rect x="-41" y="-19" width="82" height="38"/><text y="-2.2">SCF ubiquitin<tspan x="0" dy="11.5">ligase complex</tspan></text></g>
<g id="nucleoplasm" class="l" transform="translate(1087,588.3)"><rect x="-35" y="-19" width="70" height="38"/><text y="3.5">nucleoplasm</text></g>
<g id="osmp" transform="translate(1944.8,252.2)"><rect x="-49" y="-19" width="98" height="38"/><text y="-2.2">organic substance<tspan x="0" dy="11.5">metabolic process</tspan></text></g>
<g id="ncmp" transform="translate(2333.8,252.2)"><rect x="-52" y="-19" width="104" height="38"/><text y="-2.2">nitrogen compound<tspan x="0" dy="11.5">metabolic process</tspan></text></g>
<g id="oncmp" transform="translate(1763,329.8)"><rect x="-55.5" y="-19" width="111" height="38"/><text y="-8">organonitrogen<tspan x="0" dy="11.5">compound metabolic</tspan><tspan x="0" dy="11.5">process</tspan></text></g>
<g id="oscp" transform="translate(1885.9,329.8)"><rect x="-47.5" y="-19" width="95" height="38"/><text y="-2.2">organic substance<tspan x="0" dy="11.5">catabolic process</tspan></text></g>
<g id="mmp" transform="translate(2004,329.8)"><rect x="-49" y="-19" width="98" height="38"/><text y="-2.2">macromolecule<tspan x="0" dy="11.5">metabolic process</tspan></text></g>
<g id="pmp" transform="translate(2138.6,329.8)"><rect x="-49.5" y="-19" width="99" height="38"/><text y="-2.2">primary metabolic<tspan x="0" dy="11.5">process</tspan></text></g>
<g id="onccp" transform="translate(1647,412.7)"><rect x="-53.5" y="-19" width="107" height="38"/><text y="-8">organonitrogen<tspan x="0" dy="11.5">compound catabolic</tspan><tspan x="0" dy="11.5">process</tspan></text></g>
<g id="mcp" transform="translate(1766,412.7)"><rect x="-46.5" y="-19" width="93" height="38"/><text y="-2.2">macromolecule<tspan x="0" dy="11.5">catabolic process</tspan></text></g>
<g id="protmp" transform="translate(1879,412.7)"><rect x="-47.5" y="-19" width="95" height="38"/><text y="-2.2">protein metabolic<tspan x="0" dy="11.5">process</tspan></text></g>
<g id="mmod" transform="translate(1987.8,412.7)"><rect x="-42" y="-19" width="84" height="38"/><text y="-2.2">macromolecule<tspan x="0" dy="11.5">modification</tspan></text></g>
<g id="rpmp" transform="translate(2138.6,412.7)"><rect x="-49.5" y="-19" width="99" height="38"/><text y="-8">regulation of<tspan x="0" dy="11.5">primary metabolic</tspan><tspan x="0" dy="11.5">process</tspan></text></g>
<g id="rmmp" transform="translate(2296,412.7)"><rect x="-49" y="-19" width="98" height="38"/><text y="-8">regulation of<tspan x="0" dy="11.5">macromolecule</tspan><tspan x="0" dy="11.5">metabolic process</tspan></text></g>
<g id="pcp" transform="translate(1783,500)"><rect x="-45" y="-19" width="90" height="38"/><text y="-2.2">protein catabolic<tspan x="0" dy="11.5">process</tspan></text></g>
<g id="proteolysis" transform="translate(1879.6,500)"><rect x="-30.5" y="-19" width="61" height="38"/><text y="3.5">proteolysis</text></g>
<g id="pmodp" transform="translate(2005,500)"><rect x="-54" y="-19" width="108" height="38"/><text y="-2.2">protein modification<tspan x="0" dy="11.5">process</tspan></text></g>
<g id="rprotmp" transform="translate(2173.4,500)"><rect x="-47" y="-19" width="94" height="38"/><text y="-8">regulation of<tspan x="0" dy="11.5">protein metabolic</tspan><tspan x="0" dy="11.5">process</tspan></text></g>
<g id="nrmmp" transform="translate(2296,500)"><rect x="-52" y="-19" width="104" height="38"/><text y="-8">negative regulation<tspan x="0" dy="11.5">of macromolecule</tspan><tspan x="0" dy="11.5">metabolic process</tspan></text></g>
<g id="mdmcp" transform="translate(1675.5,588.3)"><rect x="-63" y="-19" width="126" height="38"/><text y="-8">modification-dependent<tspan x="0" dy="11.5">macromolecule</tspan><tspan x="0" dy="11.5">catabolic process</tspan></text></g>
<g id="pipcp" transform="translate(1803,588.3)"><rect x="-45" y="-25" width="90" height="50"/><text y="-13.8">proteolysis<tspan x="0" dy="11.5">involved in</tspan><tspan x="0" dy="11.5">protein catabolic</tspan><tspan x="0" dy="11.5">process</tspan></text></g>
<g id="pmsp_cr" transform="translate(2001.5,588.3)"><rect x="-54" y="-25" width="108" height="50"/><text y="-13.8">protein modification<tspan x="0" dy="11.5">by small protein</tspan><tspan x="0" dy="11.5">conjugation</tspan><tspan x="0" dy="11.5">or removal</tspan></text></g>
<g id="rpmodp" transform="translate(2165,588.3)"><rect x="-49.5" y="-19" width="99" height="38"/><text y="-8">regulation of<tspan x="0" dy="11.5">protein modification</tspan><tspan x="0" dy="11.5">process</tspan></text></g>
<g id="nrprotmp" transform="translate(2296.7,588.3)"><rect x="-53.5" y="-19" width="107" height="38"/><text y="-8">negative regulation<tspan x="0" dy="11.5">of protein metabolic</tspan><tspan x="0" dy="11.5">process</tspan></text></g>
<g id="mdpcp" transform="translate(1742,676.3)"><rect x="-63.5" y="-19" width="127" height="38"/><text y="-8">modification-dependent<tspan x="0" dy="11.5">protein catabolic</tspan><tspan x="0" dy="11.5">process</tspan></text></g>
<g id="ppcp" transform="translate(1869.7,676.3)"><rect x="-45" y="-19" width="90" height="38"/><text y="-8">proteasomal<tspan x="0" dy="11.5">protein catabolic</tspan><tspan x="0" dy="11.5">process</tspan></text></g>
<g id="pmsp_c" transform="translate(2001.5,676.3)"><rect x="-54" y="-19" width="108" height="38"/><text y="-8">protein modification<tspan x="0" dy="11.5">by small protein</tspan><tspan x="0" dy="11.5">conjugation</tspan></text></g>
<g id="nrpmodp" transform="translate(2233,676.3)"><rect x="-60.5" y="-19" width="121" height="38"/><text y="-8">negative regulation<tspan x="0" dy="11.5">of protein modification</tspan><tspan x="0" dy="11.5">process</tspan></text></g>
<g id="udpcp" class="l" transform="translate(1761,764)"><rect x="-53.5" y="-19" width="107" height="38"/><text y="-8">ubiquitin-dependent<tspan x="0" dy="11.5">protein catabolic</tspan><tspan x="0" dy="11.5">process</tspan></text></g>
<g id="pubiq" class="l" transform="translate(2001.8,764)"><rect x="-57.5" y="-19" width="115" height="38"/><text y="3.5">protein ubiquitination</text></g>
<g id="pmudpcp" class="l" transform="translate(1808,851.6)"><rect x="-58.5" y="-25" width="117" height="50"/><text y="-13.8">proteasome-mediated<tspan x="0" dy="11.5">ubiquitin-dependent</tspan><tspan x="0" dy="11.5">protein catabolic</tspan><tspan x="0" dy="11.5">process</tspan></text></g>
<g id="ppolyubiq" transform="translate(2001.5,851.6)"><rect x="-68" y="-19" width="136" height="38"/><text y="3.5">protein polyubiquitination</text></g>
<g id="k48" class="l" transform="translate(2001.5,940)"><rect x="-49" y="-19" width="98" height="38"/><text y="-2.2">protein K48-linked<tspan x="0" dy="11.5">ubiquitination</tspan></text></g>
<g id="metabolic_process" transform="translate(2530.9,175.3)"><rect x="-49" y="-19" width="98" height="38"/><text y="3.5">metabolic process</text></g>
<g id="rbq" transform="translate(2645.9,175.3)"><rect x="-46.5" y="-19" width="93" height="38"/><text y="-2.2">regulation of<tspan x="0" dy="11.5">biological quality</tspan></text></g>
<g id="catp" transform="translate(2459.8,252.2)"><rect x="-46" y="-19" width="92" height="38"/><text y="3.5">catabolic process</text></g>
<g id="rps" class="l" transform="translate(2648,252.2)"><rect x="-43" y="-19" width="86" height="38"/><text y="-2.2">regulation of<tspan x="0" dy="11.5">protein stability</tspan></text></g>
<g id="rmp" transform="translate(2799,252.2)"><rect x="-49" y="-19" width="98" height="38"/><text y="-2.2">regulation of<tspan x="0" dy="11.5">metabolic process</tspan></text></g>
<g id="cmp" transform="translate(3288.5,252.2)"><rect x="-48" y="-19" width="96" height="38"/><text y="-2.2">cellular metabolic<tspan x="0" dy="11.5">process</tspan></text></g>
<g id="rncmp" transform="translate(2405.5,329.8)"><rect x="-51.5" y="-19" width="103" height="38"/><text y="-8">regulation of<tspan x="0" dy="11.5">nitrogen compound</tspan><tspan x="0" dy="11.5">metabolic process</tspan></text></g>
<g id="rcatp" transform="translate(2683,329.8)"><rect x="-46" y="-19" width="92" height="38"/><text y="-2.2">regulation of<tspan x="0" dy="11.5">catabolic process</tspan></text></g>
<g id="prmp" transform="translate(2799,329.8)"><rect x="-49.5" y="-19" width="99" height="38"/><text y="-8">positive regulation<tspan x="0" dy="11.5">of metabolic</tspan><tspan x="0" dy="11.5">process</tspan></text></g>
<g id="nrmp" transform="translate(2920.3,329.8)"><rect x="-52" y="-19" width="104" height="38"/><text y="-8">negative regulation<tspan x="0" dy="11.5">of metabolic</tspan><tspan x="0" dy="11.5">process</tspan></text></g>
<g id="phmp" transform="translate(3050.7,329.8)"><rect x="-58.5" y="-19" width="117" height="38"/><text y="-2.2">phosphorus metabolic<tspan x="0" dy="11.5">process</tspan></text></g>
<g id="ccp" transform="translate(3175,329.8)"><rect x="-45" y="-19" width="90" height="38"/><text y="-2.2">cellular catabolic<tspan x="0" dy="11.5">process</tspan></text></g>
<g id="rcmp" transform="translate(3288.5,329.8)"><rect x="-48" y="-19" width="96" height="38"/><text y="-8">regulation of<tspan x="0" dy="11.5">cellular metabolic</tspan><tspan x="0" dy="11.5">process</tspan></text></g>
<g id="nrncmp" transform="translate(2421.3,412.7)"><rect x="-55.5" y="-25" width="111" height="50"/><text y="-13.8">negative regulation<tspan x="0" dy="11.5">of nitrogen</tspan><tspan x="0" dy="11.5">compound metabolic</tspan><tspan x="0" dy="11.5">process</tspan></text></g>
<g id="rmf" transform="translate(2546.7,412.7)"><rect x="-50" y="-19" width="100" height="38"/><text y="-2.2">regulation of<tspan x="0" dy="11.5">molecular function</tspan></text></g>
<g id="prcatp" transform="translate(2665.8,412.7)"><rect x="-50" y="-19" width="100" height="38"/><text y="-8">positive regulation<tspan x="0" dy="11.5">of catabolic</tspan><tspan x="0" dy="11.5">process</tspan></text></g>
<g id="pccmp" transform="translate(2832.3,412.7)"><rect x="-57.5" y="-19" width="115" height="38"/><text y="-8">phosphate-containing<tspan x="0" dy="11.5">compound metabolic</tspan><tspan x="0" dy="11.5">process</tspan></text></g>
<g id="rphmp" transform="translate(2968,412.7)"><rect x="-58.5" y="-19" width="117" height="38"/><text y="-8">regulation of<tspan x="0" dy="11.5">phosphorus metabolic</tspan><tspan x="0" dy="11.5">process</tspan></text></g>
<g id="rccp" transform="translate(3171.8,412.7)"><rect x="-46" y="-19" width="92" height="38"/><text y="-8">regulation of<tspan x="0" dy="11.5">cellular catabolic</tspan><tspan x="0" dy="11.5">process</tspan></text></g>
<g id="prcmp" transform="translate(3287.8,412.7)"><rect x="-49" y="-19" width="98" height="38"/><text y="-8">positive regulation<tspan x="0" dy="11.5">of cellular</tspan><tspan x="0" dy="11.5">metabolic process</tspan></text></g>
<g id="nrcmp" transform="translate(3409,412.7)"><rect x="-52" y="-19" width="104" height="38"/><text y="-8">negative regulation<tspan x="0" dy="11.5">of cellular</tspan><tspan x="0" dy="11.5">metabolic process</tspan></text></g>
<g id="nrmf" transform="translate(2545.7,500)"><rect x="-52" y="-19" width="104" height="38"/><text y="-8">negative regulation<tspan x="0" dy="11.5">of molecular</tspan><tspan x="0" dy="11.5">function</tspan></text></g>
<g id="rcata" transform="translate(2662,500)"><rect x="-44.5" y="-19" width="89" height="38"/><text y="-2.2">regulation of<tspan x="0" dy="11.5">catalytic activity</tspan></text></g>
<g id="phosphorylation" transform="translate(2770,500)"><rect x="-43" y="-19" width="86" height="38"/><text y="3.5">phosphorylation</text></g>
<g id="rphtmp" transform="translate(2928.7,500)"><rect x="-55.5" y="-19" width="111" height="38"/><text y="-8">regulation of<tspan x="0" dy="11.5">phosphate metabolic</tspan><tspan x="0" dy="11.5">process</tspan></text></g>
<g id="nrphmp" transform="translate(3056,500)"><rect x="-52" y="-19" width="104" height="38"/><text y="-8">negative regulation<tspan x="0" dy="11.5">of phosphorus</tspan><tspan x="0" dy="11.5">metabolic process</tspan></text></g>
<g id="prccp" transform="translate(3177.5,500)"><rect x="-50" y="-19" width="100" height="38"/><text y="-8">positive regulation<tspan x="0" dy="11.5">of cellular</tspan><tspan x="0" dy="11.5">catabolic process</tspan></text></g>
<g id="raut" transform="translate(3425,500)"><rect x="-35" y="-19" width="70" height="38"/><text y="-2.2">regulation of<tspan x="0" dy="11.5">autophagy</tspan></text></g>
<g id="pphos" transform="translate(2433.8,588.3)"><rect x="-63" y="-19" width="126" height="38"/><text y="3.5">protein phosphorylation</text></g>
<g id="nrcata" transform="translate(2568.6,588.3)"><rect x="-52" y="-19" width="104" height="38"/><text y="-8">negative regulation<tspan x="0" dy="11.5">of catalytic</tspan><tspan x="0" dy="11.5">activity</tspan></text></g>
<g id="rta" transform="translate(2675,588.3)"><rect x="-35" y="-19" width="70" height="38"/><text y="-8">regulation of<tspan x="0" dy="11.5">transferase</tspan><tspan x="0" dy="11.5">activity</tspan></text></g>
<g id="rphos" transform="translate(2773,588.3)"><rect x="-43" y="-19" width="86" height="38"/><text y="-2.2">regulation of<tspan x="0" dy="11.5">phosphorylation</tspan></text></g>
<g id="nrphtmp" transform="translate(2928,588.3)"><rect x="-52" y="-19" width="104" height="38"/><text y="-8">negative regulation<tspan x="0" dy="11.5">of phosphate</tspan><tspan x="0" dy="11.5">metabolic process</tspan></text></g>
<g id="rpphos" transform="translate(2506.5,676.3)"><rect x="-63" y="-19" width="126" height="38"/><text y="-2.2">regulation of<tspan x="0" dy="11.5">protein phosphorylation</tspan></text></g>
<g id="nrta" transform="translate(2642,676.3)"><rect x="-52" y="-19" width="104" height="38"/><text y="-8">negative regulation<tspan x="0" dy="11.5">of transferase</tspan><tspan x="0" dy="11.5">activity</tspan></text></g>
<g id="rka" transform="translate(2753.8,676.3)"><rect x="-40" y="-19" width="80" height="38"/><text y="-2.2">regulation of<tspan x="0" dy="11.5">kinase activity</tspan></text></g>
<g id="nrphos" transform="translate(2865.6,676.3)"><rect x="-52" y="-19" width="104" height="38"/><text y="-2.2">negative regulation<tspan x="0" dy="11.5">of phosphorylation</tspan></text></g>
<g id="nrpphos" transform="translate(2506.9,764)"><rect x="-70" y="-19" width="140" height="38"/><text y="-2.2">negative regulation<tspan x="0" dy="11.5">of protein phosphorylation</tspan></text></g>
<g id="rpka" transform="translate(2699.7,764)"><rect x="-38.5" y="-19" width="77" height="38"/><text y="-8">regulation of<tspan x="0" dy="11.5">protein kinase</tspan><tspan x="0" dy="11.5">activity</tspan></text></g>
<g id="nrka" transform="translate(2809.3,764)"><rect x="-52" y="-19" width="104" height="38"/><text y="-2.2">negative regulation<tspan x="0" dy="11.5">of kinase activity</tspan></text></g>
<g id="rpstka" transform="translate(2674,851.6)"><rect x="-63.5" y="-19" width="127" height="38"/><text y="-8">regulation of<tspan x="0" dy="11.5">protein serine/threonine</tspan><tspan x="0" dy="11.5">kinase activity</tspan></text></g>
<g id="nrpka" transform="translate(2809.3,851.6)"><rect x="-52" y="-19" width="104" height="38"/><text y="-8">negative regulation<tspan x="0" dy="11.5">of protein kinase</tspan><tspan x="0" dy="11.5">activity</tspan></text></g>
<g id="rcdpka" transform="translate(2945.5,851.6)"><rect x="-45.5" y="-25" width="91" height="50"/><text y="-13.8">regulation of<tspan x="0" dy="11.5">cyclin-dependent</tspan><tspan x="0" dy="11.5">protein kinase</tspan><tspan x="0" dy="11.5">activity</tspan></text></g>
<g id="nrpstka" transform="translate(2674.5,940)"><rect x="-70" y="-19" width="140" height="38"/><text y="-8">negative regulation<tspan x="0" dy="11.5">of protein serine/threonine</tspan><tspan x="0" dy="11.5">kinase activity</tspan></text></g>
<g id="rcdpstka" transform="translate(2827,940)"><rect x="-64" y="-25" width="128" height="50"/><text y="-13.8">regulation of<tspan x="0" dy="11.5">cyclin-dependent</tspan><tspan x="0" dy="11.5">protein serine/threonine</tspan><tspan x="0" dy="11.5">kinase activity</tspan></text></g>
<g id="nrcdpka" transform="translate(2963,940)"><rect x="-53" y="-25" width="106" height="50"/><text y="-13.8">negative regulation<tspan x="0" dy="11.5">of cyclin-dependent</tspan><tspan x="0" dy="11.5">protein kinase</tspan><tspan x="0" dy="11.5">activity</tspan></text></g>
<g id="nrcdpstka" class="c" transform="translate(2895.4,1027.7)"><rect x="-63.5" y="-25" width="127" height="50"/><text y="-13.8">negative regulation<tspan x="0" dy="11.5">of cyclin-dependent</tspan><tspan x="0" dy="11.5">protein serine/threonine</tspan><tspan x="0" dy="11.5">kinase activity</tspan></text></g>
<g id="breg" transform="translate(3656.6,98.1)"><rect x="-54.3" y="-19" width="108.6" height="38"/><text y="3.5">biological regulation</text></g>
<g id="rstim" transform="translate(4098.7,98.1)"><rect x="-32.5" y="-19" width="65" height="38"/><text y="-2.2">response to<tspan x="0" dy="11.5">stimulus</tspan></text></g>
<g id="rchem" transform="translate(3747.7,175.3)"><rect x="-32" y="-19" width="64" height="38"/><text y="-2.2">response to<tspan x="0" dy="11.5">chemical</tspan></text></g>
<g id="crstim" transform="translate(3969.5,175.3)"><rect x="-45.5" y="-19" width="91" height="38"/><text y="-2.2">cellular response<tspan x="0" dy="11.5">to stimulus</tspan></text></g>
<g id="rstress" transform="translate(4067,175.3)"><rect x="-32.5" y="-19" width="65" height="38"/><text y="-2.2">response to<tspan x="0" dy="11.5">stress</tspan></text></g>
<g id="puam" transform="translate(4487,175.3)"><rect x="-61.5" y="-19" width="123" height="38"/><text y="-2.2">process utilizing<tspan x="0" dy="11.5">autophagic mechanism</tspan></text></g>
<g id="rinorg" transform="translate(3509,252.2)"><rect x="-53.5" y="-19" width="107" height="38"/><text y="-2.2">response to<tspan x="0" dy="11.5">inorganic substance</tspan></text></g>
<g id="rorg" transform="translate(3630.3,252.2)"><rect x="-48" y="-19" width="96" height="38"/><text y="-2.2">response to<tspan x="0" dy="11.5">organic substance</tspan></text></g>
<g id="rocc" transform="translate(3748,252.2)"><rect x="-49" y="-19" width="98" height="38"/><text y="-8">response to<tspan x="0" dy="11.5">oxygen-containing</tspan><tspan x="0" dy="11.5">compound</tspan></text></g>
<g id="crchem" transform="translate(3862.7,252.2)"><rect x="-46" y="-19" width="92" height="38"/><text y="-8">cellular response<tspan x="0" dy="11.5">to chemical</tspan><tspan x="0" dy="11.5">stimulus</tspan></text></g>
<g id="crstress" transform="translate(4013.3,252.2)"><rect x="-45.5" y="-19" width="91" height="38"/><text y="-2.2">cellular response<tspan x="0" dy="11.5">to stress</tspan></text></g>
<g id="rrstim" transform="translate(4248.4,252.2)"><rect x="-34.5" y="-19" width="69" height="38"/><text y="-8">regulation of<tspan x="0" dy="11.5">response to</tspan><tspan x="0" dy="11.5">stimulus</tspan></text></g>
<g id="crocc" transform="translate(3748,329.8)"><rect x="-56.5" y="-19" width="113" height="38"/><text y="-8">cellular response<tspan x="0" dy="11.5">to oxygen-containing</tspan><tspan x="0" dy="11.5">compound</tspan></text></g>
<g id="rox" transform="translate(3867.4,329.8)"><rect x="-43" y="-19" width="86" height="38"/><text y="-2.2">response to<tspan x="0" dy="11.5">oxidative stress</tspan></text></g>
<g id="crchst" transform="translate(3976.2,329.8)"><rect x="-46" y="-19" width="92" height="38"/><text y="-8">cellular response<tspan x="0" dy="11.5">to chemical</tspan><tspan x="0" dy="11.5">stress</tspan></text></g>
<g id="rrstress" transform="translate(4155.7,329.8)"><rect x="-35" y="-19" width="70" height="38"/><text y="-8">regulation of<tspan x="0" dy="11.5">response to</tspan><tspan x="0" dy="11.5">stress</tspan></text></g>
<g id="nrrstim" transform="translate(4262.8,329.8)"><rect x="-52" y="-19" width="104" height="38"/><text y="-8">negative regulation<tspan x="0" dy="11.5">of response</tspan><tspan x="0" dy="11.5">to stimulus</tspan></text></g>
<g id="ccdis" transform="translate(4385.6,329.8)"><rect x="-51" y="-19" width="102" height="38"/><text y="-2.2">cellular component<tspan x="0" dy="11.5">disassembly</tspan></text></g>
<g id="autophagy" transform="translate(3509,412.7)"><rect x="-29.5" y="-19" width="59" height="38"/><text y="3.5">autophagy</text></g>
<g id="rros" transform="translate(3680.9,412.7)"><rect x="-43" y="-19" width="86" height="38"/><text y="-8">response to<tspan x="0" dy="11.5">reactive oxygen</tspan><tspan x="0" dy="11.5">species</tspan></text></g>
<g id="rrox" transform="translate(3867.4,412.7)"><rect x="-43" y="-19" width="86" height="38"/><text y="-8">regulation of<tspan x="0" dy="11.5">response to</tspan><tspan x="0" dy="11.5">oxidative stress</tspan></text></g>
<g id="crox" transform="translate(3976.2,412.7)"><rect x="-46" y="-19" width="92" height="38"/><text y="-8">cellular response<tspan x="0" dy="11.5">to oxidative</tspan><tspan x="0" dy="11.5">stress</tspan></text></g>
<g id="rcrstress" transform="translate(4126.7,412.7)"><rect x="-46" y="-19" width="92" height="38"/><text y="-8">regulation of<tspan x="0" dy="11.5">cellular response</tspan><tspan x="0" dy="11.5">to stress</tspan></text></g>
<g id="orgdis" transform="translate(4251.7,412.7)"><rect x="-60" y="-19" width="120" height="38"/><text y="3.5">organelle disassembly</text></g>
<g id="mitoorg" transform="translate(4370.4,412.7)"><rect x="-38.5" y="-19" width="77" height="38"/><text y="-2.2">mitochondrion<tspan x="0" dy="11.5">organization</tspan></text></g>
<g id="rorgorg" transform="translate(4488.2,412.7)"><rect x="-59" y="-19" width="118" height="38"/><text y="-2.2">regulation of<tspan x="0" dy="11.5">organelle organization</tspan></text></g>
<g id="rhp" transform="translate(3609.8,500)"><rect x="-50" y="-19" width="100" height="38"/><text y="-2.2">response to<tspan x="0" dy="11.5">hydrogen peroxide</tspan></text></g>
<g id="rrros" transform="translate(3762.2,500)"><rect x="-42.5" y="-25" width="85" height="50"/><text y="-13.8">regulation of<tspan x="0" dy="11.5">response to</tspan><tspan x="0" dy="11.5">reactive oxygen</tspan><tspan x="0" dy="11.5">species</tspan></text></g>
<g id="crros" transform="translate(3870.8,500)"><rect x="-45" y="-19" width="90" height="38"/><text y="-8">cellular response<tspan x="0" dy="11.5">to reactive</tspan><tspan x="0" dy="11.5">oxygen species</tspan></text></g>
<g id="nrrox" transform="translate(3988.7,500)"><rect x="-52" y="-25" width="104" height="50"/><text y="-13.8">negative regulation<tspan x="0" dy="11.5">of response</tspan><tspan x="0" dy="11.5">to oxidative</tspan><tspan x="0" dy="11.5">stress</tspan></text></g>
<g id="rcrox" transform="translate(4105.4,500)"><rect x="-46" y="-25" width="92" height="50"/><text y="-13.8">regulation of<tspan x="0" dy="11.5">cellular response</tspan><tspan x="0" dy="11.5">to oxidative</tspan><tspan x="0" dy="11.5">stress</tspan></text></g>
<g id="mitodis" transform="translate(4249.7,500)"><rect x="-39" y="-19" width="78" height="38"/><text y="-2.2">mitochondrion<tspan x="0" dy="11.5">disassembly</tspan></text></g>
<g id="rmitoorg" transform="translate(4388.3,500)"><rect x="-39" y="-19" width="78" height="38"/><text y="-8">regulation of<tspan x="0" dy="11.5">mitochondrion</tspan><tspan x="0" dy="11.5">organization</tspan></text></g>
<g id="praut" transform="translate(3457.7,588.3)"><rect x="-50" y="-19" width="100" height="38"/><text y="-2.2">positive regulation<tspan x="0" dy="11.5">of autophagy</tspan></text></g>
<g id="nrrros" transform="translate(3762.5,588.3)"><rect x="-52" y="-25" width="104" height="50"/><text y="-13.8">negative regulation<tspan x="0" dy="11.5">of response</tspan><tspan x="0" dy="11.5">to reactive</tspan><tspan x="0" dy="11.5">oxygen species</tspan></text></g>
<g id="automito" class="l" transform="translate(3906.8,588.3)"><rect x="-39" y="-19" width="78" height="38"/><text y="-2.2">autophagy of<tspan x="0" dy="11.5">mitochondrion</tspan></text></g>
<g id="crhp" transform="translate(4095.3,588.3)"><rect x="-46" y="-19" width="92" height="38"/><text y="-8">cellular response<tspan x="0" dy="11.5">to hydrogen</tspan><tspan x="0" dy="11.5">peroxide</tspan></text></g>
<g id="prmitoorg" transform="translate(4399,588.3)"><rect x="-50" y="-19" width="100" height="38"/><text y="-8">positive regulation<tspan x="0" dy="11.5">of mitochondrion</tspan><tspan x="0" dy="11.5">organization</tspan></text></g>
<g id="rautomito" transform="translate(3871.7,676.3)"><rect x="-39.5" y="-19" width="79" height="38"/><text y="-8">regulation of<tspan x="0" dy="11.5">autophagy of</tspan><tspan x="0" dy="11.5">mitochondrion</tspan></text></g>
<g id="cdrhp" transform="translate(4246.3,676.3)"><rect x="-50.5" y="-19" width="101" height="38"/><text y="-8">cell death in<tspan x="0" dy="11.5">response to</tspan><tspan x="0" dy="11.5">hydrogen peroxide</tspan></text></g>
<g id="roxcd" transform="translate(4481,676.3)"><rect x="-65" y="-19" width="130" height="38"/><text y="-8">regulation of<tspan x="0" dy="11.5">oxidative stress-induced</tspan><tspan x="0" dy="11.5">cell death</tspan></text></g>
<g id="prautomito" class="l" transform="translate(3906,764)"><rect x="-49.5" y="-19" width="99" height="38"/><text y="-8">positive regulation<tspan x="0" dy="11.5">of autophagy</tspan><tspan x="0" dy="11.5">of mitochondrion</tspan></text></g>
<g id="rhpcd" transform="translate(4246,764)"><rect x="-72" y="-19" width="144" height="38"/><text y="-8">regulation of<tspan x="0" dy="11.5">hydrogen peroxide-induced</tspan><tspan x="0" dy="11.5">cell death</tspan></text></g>
<g id="ndrhp" transform="translate(4373.4,764)"><rect x="-35.5" y="-25" width="71" height="50"/><text y="-13.8">neuron death<tspan x="0" dy="11.5">in response</tspan><tspan x="0" dy="11.5">to hydrogen</tspan><tspan x="0" dy="11.5">peroxide</tspan></text></g>
<g id="nroxcd" transform="translate(4482,764)"><rect x="-52" y="-25" width="104" height="50"/><text y="-13.8">negative regulation<tspan x="0" dy="11.5">of oxidative</tspan><tspan x="0" dy="11.5">stress-induced</tspan><tspan x="0" dy="11.5">cell death</tspan></text></g>
<g id="nrhpcd" transform="translate(4246,851.6)"><rect x="-52" y="-25" width="104" height="50"/><text y="-13.8">negative regulation<tspan x="0" dy="11.5">of hydrogen</tspan><tspan x="0" dy="11.5">peroxide-induced</tspan><tspan x="0" dy="11.5">cell death</tspan></text></g>
<g id="rhpnd" transform="translate(4446,851.6)"><rect x="-72.5" y="-19" width="145" height="38"/><text y="-8">regulation of<tspan x="0" dy="11.5">hydrogen peroxide-induced</tspan><tspan x="0" dy="11.5">neuron death</tspan></text></g>
<g id="nrhpnd" class="l" transform="translate(4394.6,940)"><rect x="-52" y="-25" width="104" height="50"/><text y="-13.8">negative regulation<tspan x="0" dy="11.5">of hydrogen</tspan><tspan x="0" dy="11.5">peroxide-induced</tspan><tspan x="0" dy="11.5">neuron death</tspan></text></g>
<g id="bp" transform="translate(5239,22.6)"><rect x="-49.5" y="-19" width="99" height="38"/><text y="-2.2">biological_process<tspan x="0" dy="11.5">Fbxo7</tspan></text></g>
<g id="cellular_process" transform="translate(5155.8,98.1)"><rect x="-42" y="-19" width="84" height="38"/><text y="3.5">cellular process</text></g>
<g id="locomotion" transform="translate(5324.2,98.1)"><rect x="-30.5" y="-19" width="61" height="38"/><text y="3.5">locomotion</text></g>
<g id="ccob" transform="translate(4860,175.3)"><rect x="-51.3" y="-19" width="102.6" height="38"/><text y="-8">cellular component<tspan x="0" dy="11.5">organization</tspan><tspan x="0" dy="11.5">or biogenesis</tspan></text></g>
<g id="rbp" transform="translate(5057.8,175.3)"><rect x="-48" y="-19" width="96" height="38"/><text y="-2.2">regulation of<tspan x="0" dy="11.5">biological process</tspan></text></g>
<g id="prbp" transform="translate(4739.6,252.2)"><rect x="-50" y="-19" width="100" height="38"/><text y="-8">positive regulation<tspan x="0" dy="11.5">of biological</tspan><tspan x="0" dy="11.5">process</tspan></text></g>
<g id="cco" transform="translate(4860,252.2)"><rect x="-51.3" y="-19" width="102.6" height="38"/><text y="-2.2">cellular component<tspan x="0" dy="11.5">organization</tspan></text></g>
<g id="rcellp" transform="translate(5020.4,252.2)"><rect x="-42" y="-19" width="84" height="38"/><text y="-2.2">regulation of<tspan x="0" dy="11.5">cellular process</tspan></text></g>
<g id="rloco" class="l" transform="translate(5239.9,252.2)"><rect x="-35" y="-19" width="70" height="38"/><text y="-2.2">regulation of<tspan x="0" dy="11.5">locomotion</tspan></text></g>
<g id="cell_cycle" transform="translate(5322.9,252.2)"><rect x="-28.5" y="-19" width="57" height="38"/><text y="3.5">cell cycle</text></g>
<g id="orgorg" transform="translate(4514.4,329.8)"><rect x="-60" y="-19" width="120" height="38"/><text y="3.5">organelle organization</text></g>
<g id="cpo" transform="translate(4631.4,329.8)"><rect x="-38" y="-19" width="76" height="38"/><text y="-2.2">cell projection<tspan x="0" dy="11.5">organization</tspan></text></g>
<g id="prcellp" transform="translate(4739.6,329.8)"><rect x="-50" y="-19" width="100" height="38"/><text y="-8">positive regulation<tspan x="0" dy="11.5">of cellular</tspan><tspan x="0" dy="11.5">process</tspan></text></g>
<g id="rcco" transform="translate(4899.8,329.8)"><rect x="-51.5" y="-19" width="103" height="38"/><text y="-8">regulation of<tspan x="0" dy="11.5">cellular component</tspan><tspan x="0" dy="11.5">organization</tspan></text></g>
<g id="ccproc" transform="translate(5233.2,329.8)"><rect x="-47" y="-19" width="94" height="38"/><text y="3.5">cell cycle process</text></g>
<g id="rcc" transform="translate(5335.3,329.8)"><rect x="-35" y="-19" width="70" height="38"/><text y="-2.2">regulation of<tspan x="0" dy="11.5">cell cycle</tspan></text></g>
<g id="mcc" transform="translate(5421.3,329.8)"><rect x="-29.5" y="-19" width="59" height="38"/><text y="-2.2">mitotic cell<tspan x="0" dy="11.5">cycle</tspan></text></g>
<g id="pmbcpo" transform="translate(4667.7,412.7)"><rect x="-60.5" y="-19" width="121" height="38"/><text y="-8">plasma membrane<tspan x="0" dy="11.5">bounded cell</tspan><tspan x="0" dy="11.5">projection organization</tspan></text></g>
<g id="rcpo" transform="translate(4787.8,412.7)"><rect x="-38" y="-19" width="76" height="38"/><text y="-8">regulation of<tspan x="0" dy="11.5">cell projection</tspan><tspan x="0" dy="11.5">organization</tspan></text></g>
<g id="prcco" transform="translate(4910.2,412.7)"><rect x="-64" y="-19" width="128" height="38"/><text y="-8">positive regulation<tspan x="0" dy="11.5">of cellular</tspan><tspan x="0" dy="11.5">component organization</tspan></text></g>
<g id="ccpt" transform="translate(5157,412.7)"><rect x="-42.5" y="-19" width="85" height="38"/><text y="-2.2">cell cycle phase<tspan x="0" dy="11.5">transition</tspan></text></g>
<g id="rccproc" transform="translate(5266.9,412.7)"><rect x="-47" y="-19" width="94" height="38"/><text y="-2.2">regulation of<tspan x="0" dy="11.5">cell cycle process</tspan></text></g>
<g id="mccproc" transform="translate(5411.3,412.7)"><rect x="-36.5" y="-19" width="73" height="38"/><text y="-2.2">mitotic cell<tspan x="0" dy="11.5">cycle process</tspan></text></g>
<g id="rmcc" transform="translate(5502.8,412.7)"><rect x="-35" y="-19" width="70" height="38"/><text y="-8">regulation of<tspan x="0" dy="11.5">mitotic cell</tspan><tspan x="0" dy="11.5">cycle</tspan></text></g>
<g id="prorgorg" transform="translate(4557.5,500)"><rect x="-50" y="-19" width="100" height="38"/><text y="-8">positive regulation<tspan x="0" dy="11.5">of organelle</tspan><tspan x="0" dy="11.5">organization</tspan></text></g>
<g id="rpmbcpo" transform="translate(4794.9,500)"><rect x="-60.5" y="-25" width="121" height="50"/><text y="-13.8">regulation of<tspan x="0" dy="11.5">plasma membrane</tspan><tspan x="0" dy="11.5">bounded cell</tspan><tspan x="0" dy="11.5">projection organization</tspan></text></g>
<g id="cell_death" transform="translate(4989.8,500)"><rect x="-27.5" y="-19" width="55" height="38"/><text y="3.5">cell death</text></g>
<g id="ccg1s" transform="translate(5120.5,500)"><rect x="-42.5" y="-19" width="85" height="38"/><text y="-2.2">cell cycle G1/S<tspan x="0" dy="11.5">phase transition</tspan></text></g>
<g id="rccpt" transform="translate(5266.9,500)"><rect x="-43" y="-19" width="86" height="38"/><text y="-8">regulation of<tspan x="0" dy="11.5">cell cycle phase</tspan><tspan x="0" dy="11.5">transition</tspan></text></g>
<g id="mccpt" transform="translate(5362,500)"><rect x="-31.5" y="-19" width="63" height="38"/><text y="-8">mitotic cell<tspan x="0" dy="11.5">cycle phase</tspan><tspan x="0" dy="11.5">transition</tspan></text></g>
<g id="nrccproc" transform="translate(5466,500)"><rect x="-52" y="-19" width="104" height="38"/><text y="-8">negative regulation<tspan x="0" dy="11.5">of cell cycle</tspan><tspan x="0" dy="11.5">process</tspan></text></g>
<g id="cdox" transform="translate(4511.7,588.3)"><rect x="-43" y="-19" width="86" height="38"/><text y="-8">cell death in<tspan x="0" dy="11.5">response to</tspan><tspan x="0" dy="11.5">oxidative stress</tspan></text></g>
<g id="rcd" transform="translate(4834,588.3)"><rect x="-34.5" y="-19" width="69" height="38"/><text y="-2.2">regulation of<tspan x="0" dy="11.5">cell death</tspan></text></g>
<g id="neuron_death" transform="translate(4924.3,588.3)"><rect x="-35.8" y="-19" width="71.6" height="38"/><text y="3.5">neuron death</text></g>
<g id="rccg1s" transform="translate(5160.7,588.3)"><rect x="-43.5" y="-19" width="87" height="38"/><text y="-8">regulation of<tspan x="0" dy="11.5">cell cycle G1/S</tspan><tspan x="0" dy="11.5">phase transition</tspan></text></g>
<g id="g1smcc" transform="translate(5262.5,588.3)"><rect x="-39.5" y="-19" width="79" height="38"/><text y="-8">G1/S transition<tspan x="0" dy="11.5">of mitotic cell</tspan><tspan x="0" dy="11.5">cycle</tspan></text></g>
<g id="nrccpt" transform="translate(5375.2,588.3)"><rect x="-52" y="-19" width="104" height="38"/><text y="-8">negative regulation<tspan x="0" dy="11.5">of cell cycle</tspan><tspan x="0" dy="11.5">phase transition</tspan></text></g>
<g id="rmccpt" transform="translate(5482,588.3)"><rect x="-34" y="-25" width="68" height="50"/><text y="-13.8">regulation of<tspan x="0" dy="11.5">mitotic cell</tspan><tspan x="0" dy="11.5">cycle phase</tspan><tspan x="0" dy="11.5">transition</tspan></text></g>
<g id="ndox" transform="translate(4642.2,676.3)"><rect x="-35.5" y="-25" width="71" height="50"/><text y="-13.8">neuron death<tspan x="0" dy="11.5">in response</tspan><tspan x="0" dy="11.5">to oxidative</tspan><tspan x="0" dy="11.5">stress</tspan></text></g>
<g id="rnd" transform="translate(4774,676.3)"><rect x="-35.8" y="-19" width="71.6" height="38"/><text y="-2.2">regulation of<tspan x="0" dy="11.5">neuron death</tspan></text></g>
<g id="nrcd" transform="translate(4922,676.3)"><rect x="-52" y="-19" width="104" height="38"/><text y="-2.2">negative regulation<tspan x="0" dy="11.5">of cell death</tspan></text></g>
<g id="nrccg1s" transform="translate(5153.7,676.3)"><rect x="-56.5" y="-19" width="113" height="38"/><text y="-8">negative regulation<tspan x="0" dy="11.5">of cell cycle</tspan><tspan x="0" dy="11.5">G1/S phase transition</tspan></text></g>
<g id="rg1smcc" transform="translate(5270.3,676.3)"><rect x="-40" y="-25" width="80" height="50"/><text y="-13.8">regulation of<tspan x="0" dy="11.5">G1/S transition</tspan><tspan x="0" dy="11.5">of mitotic cell</tspan><tspan x="0" dy="11.5">cycle</tspan></text></g>
<g id="nrmccpt" transform="translate(5481.5,676.3)"><rect x="-52" y="-25" width="104" height="50"/><text y="-13.8">negative regulation<tspan x="0" dy="11.5">of mitotic cell</tspan><tspan x="0" dy="11.5">cycle phase</tspan><tspan x="0" dy="11.5">transition</tspan></text></g>
<g id="roxnd" transform="translate(4658,764)"><rect x="-65.5" y="-19" width="131" height="38"/><text y="-8">regulation of<tspan x="0" dy="11.5">oxidative stress-induced</tspan><tspan x="0" dy="11.5">neuron death</tspan></text></g>
<g id="nrnd" class="l" transform="translate(4899,764)"><rect x="-52" y="-19" width="104" height="38"/><text y="-2.2">negative regulation<tspan x="0" dy="11.5">of neuron death</tspan></text></g>
<g id="nrg1smcc" class="c" transform="translate(5305,764)"><rect x="-52" y="-25" width="104" height="50"/><text y="-13.8">negative regulation<tspan x="0" dy="11.5">of G1/S transition</tspan><tspan x="0" dy="11.5">of mitotic cell</tspan><tspan x="0" dy="11.5">cycle</tspan></text></g>
<g id="nroxnd" class="l" transform="translate(4658,851.6)"><rect x="-52.5" y="-25" width="105" height="50"/><text y="-13.8">negative regulation<tspan x="0" dy="11.5">of oxidative</tspan><tspan x="0" dy="11.5">stress-induced</tspan><tspan x="0" dy="11.5">neuron death</tspan></text></g>
<g id="npd" transform="translate(4793.2,851.6)"><rect x="-47" y="-19" width="94" height="38"/><text y="-2.2">neuron projection<tspan x="0" dy="11.5">development</tspan></text></g>
<g id="rnpd" class="l" transform="translate(4678,940)"><rect x="-47" y="-19" width="94" height="38"/><text y="-8">regulation of<tspan x="0" dy="11.5">neuron projection</tspan><tspan x="0" dy="11.5">development</tspan></text></g>
<g id="devp" transform="translate(6374.5,98.1)"><rect x="-40.5" y="-19" width="81" height="38"/><text y="-2.2">developmental<tspan x="0" dy="11.5">process</tspan></text></g>
<g id="mop" transform="translate(6074.8,175.3)"><rect x="-52.3" y="-19" width="104.6" height="38"/><text y="-2.2">multicellular<tspan x="0" dy="11.5">organismal process</tspan></text></g>
<g id="cdevp" transform="translate(6465.5,175.3)"><rect x="-60.5" y="-19" width="121" height="38"/><text y="-2.2">cellular developmental<tspan x="0" dy="11.5">process</tspan></text></g>
<g id="nrbp" transform="translate(5602,252.2)"><rect x="-52.3" y="-19" width="104.6" height="38"/><text y="-8">negative regulation<tspan x="0" dy="11.5">of biological</tspan><tspan x="0" dy="11.5">process</tspan></text></g>
<g id="isp" transform="translate(5775.4,252.2)"><rect x="-43.5" y="-19" width="87" height="38"/><text y="-2.2">immune system<tspan x="0" dy="11.5">process</tspan></text></g>
<g id="cell_act" transform="translate(5953,252.2)"><rect x="-38.5" y="-19" width="77" height="38"/><text y="3.5">cell activation</text></g>
<g id="rmop" transform="translate(6074.8,252.2)"><rect x="-52.3" y="-19" width="104.6" height="38"/><text y="-8">regulation of<tspan x="0" dy="11.5">multicellular</tspan><tspan x="0" dy="11.5">organismal process</tspan></text></g>
<g id="rdevp" transform="translate(6384.6,252.2)"><rect x="-40.5" y="-19" width="81" height="38"/><text y="-8">regulation of<tspan x="0" dy="11.5">developmental</tspan><tspan x="0" dy="11.5">process</tspan></text></g>
<g id="cell_diff" transform="translate(6543.3,252.2)"><rect x="-48.8" y="-19" width="97.6" height="38"/><text y="3.5">cell differentiation</text></g>
<g id="nrcellp" transform="translate(5606,329.8)"><rect x="-52.3" y="-19" width="104.6" height="38"/><text y="-8">negative regulation<tspan x="0" dy="11.5">of cellular</tspan><tspan x="0" dy="11.5">process</tspan></text></g>
<g id="risp" transform="translate(5812,329.8)"><rect x="-44" y="-19" width="88" height="38"/><text y="-8">regulation of<tspan x="0" dy="11.5">immune system</tspan><tspan x="0" dy="11.5">process</tspan></text></g>
<g id="rca" transform="translate(5953,329.8)"><rect x="-38.5" y="-19" width="77" height="38"/><text y="-2.2">regulation of<tspan x="0" dy="11.5">cell activation</tspan></text></g>
<g id="leuk_act" transform="translate(6065.4,329.8)"><rect x="-54.3" y="-19" width="108.6" height="38"/><text y="3.5">leukocyte activation</text></g>
<g id="nrmop" transform="translate(6191,329.8)"><rect x="-52" y="-19" width="104" height="38"/><text y="-8">negative regulation<tspan x="0" dy="11.5">of multicellular</tspan><tspan x="0" dy="11.5">organismal process</tspan></text></g>
<g id="nrdevp" transform="translate(6314.8,329.8)"><rect x="-52.3" y="-19" width="104.6" height="38"/><text y="-8">negative regulation<tspan x="0" dy="11.5">of developmental</tspan><tspan x="0" dy="11.5">process</tspan></text></g>
<g id="rcdiff" transform="translate(6434.9,329.8)"><rect x="-49" y="-19" width="98" height="38"/><text y="-2.2">regulation of<tspan x="0" dy="11.5">cell differentiation</tspan></text></g>
<g id="rmod" transform="translate(6610,329.8)"><rect x="-65.8" y="-19" width="131.6" height="38"/><text y="-8">regulation of<tspan x="0" dy="11.5">multicellular</tspan><tspan x="0" dy="11.5">organismal development</tspan></text></g>
<g id="nrcc" transform="translate(5649.3,412.7)"><rect x="-52.3" y="-19" width="104.6" height="38"/><text y="-2.2">negative regulation<tspan x="0" dy="11.5">of cell cycle</tspan></text></g>
<g id="nrisp" transform="translate(5811.8,412.7)"><rect x="-52.3" y="-19" width="104.6" height="38"/><text y="-8">negative regulation<tspan x="0" dy="11.5">of immune system</tspan><tspan x="0" dy="11.5">process</tspan></text></g>
<g id="nrca" transform="translate(5975.6,412.7)"><rect x="-52.3" y="-19" width="104.6" height="38"/><text y="-2.2">negative regulation<tspan x="0" dy="11.5">of cell activation</tspan></text></g>
<g id="rla" transform="translate(6101,412.7)"><rect x="-54.3" y="-19" width="108.6" height="38"/><text y="-2.2">regulation of<tspan x="0" dy="11.5">leukocyte activation</tspan></text></g>
<g id="lymph_act" transform="translate(6274,412.7)"><rect x="-59.4" y="-19" width="118.8" height="38"/><text y="3.5">lymphocyte activation</text></g>
<g id="nrcdiff" transform="translate(6448.4,412.7)"><rect x="-55.7" y="-19" width="111.4" height="38"/><text y="-2.2">negative regulation<tspan x="0" dy="11.5">of cell differentiation</tspan></text></g>
<g id="rcdev" transform="translate(6610.3,412.7)"><rect x="-45.7" y="-19" width="91.4" height="38"/><text y="-2.2">regulation of<tspan x="0" dy="11.5">cell development</tspan></text></g>
<g id="nrmcc" transform="translate(5629,500)"><rect x="-52.3" y="-19" width="104.6" height="38"/><text y="-8">negative regulation<tspan x="0" dy="11.5">of mitotic cell</tspan><tspan x="0" dy="11.5">cycle</tspan></text></g>
<g id="nrla" transform="translate(6084.9,500)"><rect x="-52.3" y="-19" width="104.6" height="38"/><text y="-8">negative regulation<tspan x="0" dy="11.5">of leukocyte</tspan><tspan x="0" dy="11.5">activation</tspan></text></g>
<g id="rlymph" transform="translate(6255,500)"><rect x="-59.4" y="-19" width="118.8" height="38"/><text y="-2.2">regulation of<tspan x="0" dy="11.5">lymphocyte activation</tspan></text></g>
<g id="nrcdev" transform="translate(6466,500)"><rect x="-53.3" y="-19" width="106.6" height="38"/><text y="-2.2">negative regulation<tspan x="0" dy="11.5">of cell development</tspan></text></g>
<g id="rhemo" transform="translate(6574,500)"><rect x="-34.4" y="-19" width="68.8" height="38"/><text y="-2.2">regulation of<tspan x="0" dy="11.5">hemopoiesis</tspan></text></g>
<g id="nrlymph" transform="translate(6169.2,588.3)"><rect x="-52.3" y="-19" width="104.6" height="38"/><text y="-8">negative regulation<tspan x="0" dy="11.5">of lymphocyte</tspan><tspan x="0" dy="11.5">activation</tspan></text></g>
<g id="nrhemo" transform="translate(6432,588.3)"><rect x="-51.9" y="-19" width="103.8" height="38"/><text y="-2.2">negative regulation<tspan x="0" dy="11.5">of hemopoiesis</tspan></text></g>
<g id="rld" transform="translate(6569,588.3)"><rect x="-65" y="-19" width="130" height="38"/><text y="-2.2">regulation of<tspan x="0" dy="11.5">leukocyte differentiation</tspan></text></g>
<g id="lymph_diff" class="c" transform="translate(6415,676.3)"><rect x="-70.2" y="-19" width="140.4" height="38"/><text y="3.5">lymphocyte differentiation</text></g>
<g id="nrld" transform="translate(6564.9,676.3)"><rect x="-52.2" y="-19" width="104.4" height="38"/><text y="-8">negative regulation<tspan x="0" dy="11.5">of leukocyte</tspan><tspan x="0" dy="11.5">differentiation</tspan></text></g>
<g id="rlymphd" transform="translate(6316,764)"><rect x="-70.2" y="-19" width="140.4" height="38"/><text y="-2.2">regulation of<tspan x="0" dy="11.5">lymphocyte differentiation</tspan></text></g>
<g id="nrlymphd" class="c" transform="translate(6365,851.6)"><rect x="-51.9" y="-19" width="103.8" height="38"/><text y="-8">negative regulation<tspan x="0" dy="11.5">of lymphocyte</tspan><tspan x="0" dy="11.5">differentiation</tspan></text></g>
<g id="localization" transform="translate(7181.5,98.1)"><rect x="-31.5" y="-19" width="63" height="38"/><text y="3.5">localization</text></g>
<g id="asd" transform="translate(6717.8,175.3)"><rect x="-55.5" y="-19" width="111" height="38"/><text y="-2.2">anatomical structure<tspan x="0" dy="11.5">development</tspan></text></g>
<g id="cell_loc" transform="translate(7125,175.3)"><rect x="-52.3" y="-19" width="104.6" height="38"/><text y="3.5">cellular localization</text></g>
<g id="mloc" transform="translate(7238,175.3)"><rect x="-41.5" y="-19" width="83" height="38"/><text y="-2.2">macromolecule<tspan x="0" dy="11.5">localization</tspan></text></g>
<g id="mod" transform="translate(6673,252.2)"><rect x="-62" y="-19" width="124" height="38"/><text y="-2.2">multicellular<tspan x="0" dy="11.5">organism development</tspan></text></g>
<g id="cmloc" transform="translate(7238,252.2)"><rect x="-61.5" y="-19" width="123" height="38"/><text y="-2.2">cellular macromolecule<tspan x="0" dy="11.5">localization</tspan></text></g>
<g id="eloc" transform="translate(7358.6,252.2)"><rect x="-38.5" y="-19" width="77" height="38"/><text y="-2.2">establishment<tspan x="0" dy="11.5">of localization</tspan></text></g>
<g id="cell_dev" transform="translate(6741,329.8)"><rect x="-46.5" y="-19" width="93" height="38"/><text y="3.5">cell development</text></g>
<g id="sysdev" transform="translate(7020.8,329.8)"><rect x="-56.2" y="-19" width="112.4" height="38"/><text y="3.5">system development</text></g>
<g id="elocc" transform="translate(7174.4,329.8)"><rect x="-38.5" y="-19" width="77" height="38"/><text y="-8">establishment<tspan x="0" dy="11.5">of localization</tspan><tspan x="0" dy="11.5">in cell</tspan></text></g>
<g id="transport" transform="translate(7309,329.8)"><rect x="-28" y="-19" width="56" height="38"/><text y="3.5">transport</text></g>
<g id="ploc" transform="translate(7448.2,329.8)"><rect x="-51.2" y="-19" width="102.4" height="38"/><text y="3.5">protein localization</text></g>
<g id="hemopoiesis" transform="translate(6751.3,412.7)"><rect x="-35" y="-19" width="70" height="38"/><text y="3.5">hemopoiesis</text></g>
<g id="nsd" transform="translate(7010.5,412.7)"><rect x="-43" y="-19" width="86" height="38"/><text y="-2.2">nervous system<tspan x="0" dy="11.5">development</tspan></text></g>
<g id="itrans" transform="translate(7105.4,412.7)"><rect x="-32.7" y="-19" width="65.4" height="38"/><text y="-2.2">intracellular<tspan x="0" dy="11.5">transport</tspan></text></g>
<g id="nct" transform="translate(7250,412.7)"><rect x="-50.9" y="-19" width="101.8" height="38"/><text y="-2.2">nitrogen compound<tspan x="0" dy="11.5">transport</tspan></text></g>
<g id="ost" transform="translate(7369.3,412.7)"><rect x="-48.4" y="-19" width="96.8" height="38"/><text y="-2.2">organic substance<tspan x="0" dy="11.5">transport</tspan></text></g>
<g id="plorg" transform="translate(7488.3,412.7)"><rect x="-50.9" y="-19" width="101.8" height="38"/><text y="-2.2">protein localization<tspan x="0" dy="11.5">to organelle</tspan></text></g>
<g id="eploc" transform="translate(7616.7,412.7)"><rect x="-57.6" y="-19" width="115.2" height="38"/><text y="-2.2">establishment<tspan x="0" dy="11.5">of protein localization</tspan></text></g>
<g id="leuk_diff" transform="translate(6751.7,500)"><rect x="-65" y="-19" width="130" height="38"/><text y="3.5">leukocyte differentiation</text></g>
<g id="neurogenesis" transform="translate(6962,500)"><rect x="-36.5" y="-19" width="73" height="38"/><text y="3.5">neurogenesis</text></g>
<g id="ptrans" transform="translate(7280.4,500)"><rect x="-44.8" y="-19" width="89.6" height="38"/><text y="3.5">protein transport</text></g>
<g id="plmito" transform="translate(7457,500)"><rect x="-51.5" y="-19" width="103" height="38"/><text y="-2.2">protein localization<tspan x="0" dy="11.5">to mitochondrion</tspan></text></g>
<g id="eplorg" transform="translate(7585.4,500)"><rect x="-57.5" y="-19" width="115" height="38"/><text y="-8">establishment<tspan x="0" dy="11.5">of protein localization</tspan><tspan x="0" dy="11.5">to organelle</tspan></text></g>
<g id="mcd" transform="translate(6702.6,588.3)"><rect x="-49.5" y="-19" width="99" height="38"/><text y="-2.2">mononuclear<tspan x="0" dy="11.5">cell differentiation</tspan></text></g>
<g id="genneur" transform="translate(6962,588.3)"><rect x="-36.5" y="-19" width="73" height="38"/><text y="-2.2">generation of<tspan x="0" dy="11.5">neurons</tspan></text></g>
<g id="iptrans" transform="translate(7173.7,588.3)"><rect x="-44.8" y="-19" width="89.6" height="38"/><text y="-2.2">intracellular<tspan x="0" dy="11.5">protein transport</tspan></text></g>
<g id="eplmito" transform="translate(7456.7,588.3)"><rect x="-57.5" y="-19" width="115" height="38"/><text y="-8">establishment<tspan x="0" dy="11.5">of protein localization</tspan><tspan x="0" dy="11.5">to mitochondrion</tspan></text></g>
<g id="neurdiff" transform="translate(6943.6,676.3)"><rect x="-57.3" y="-19" width="114.6" height="38"/><text y="3.5">neuron differentiation</text></g>
<g id="mitotrans" transform="translate(7072.7,676.3)"><rect x="-37.7" y="-19" width="75.4" height="38"/><text y="-2.2">mitochondrial<tspan x="0" dy="11.5">transport</tspan></text></g>
<g id="ptarget" transform="translate(7174,676.3)"><rect x="-45.2" y="-19" width="90.4" height="38"/><text y="3.5">protein targeting</text></g>
<g id="neurdev" transform="translate(6856.2,764)"><rect x="-55.8" y="-19" width="111.6" height="38"/><text y="3.5">neuron development</text></g>
<g id="ptmito" class="l" transform="translate(7123.2,764)"><rect x="-46.2" y="-19" width="92.4" height="38"/><text y="-2.2">protein targeting<tspan x="0" dy="11.5">to mitochondrion</tspan></text></g>
</g>
</svg>
